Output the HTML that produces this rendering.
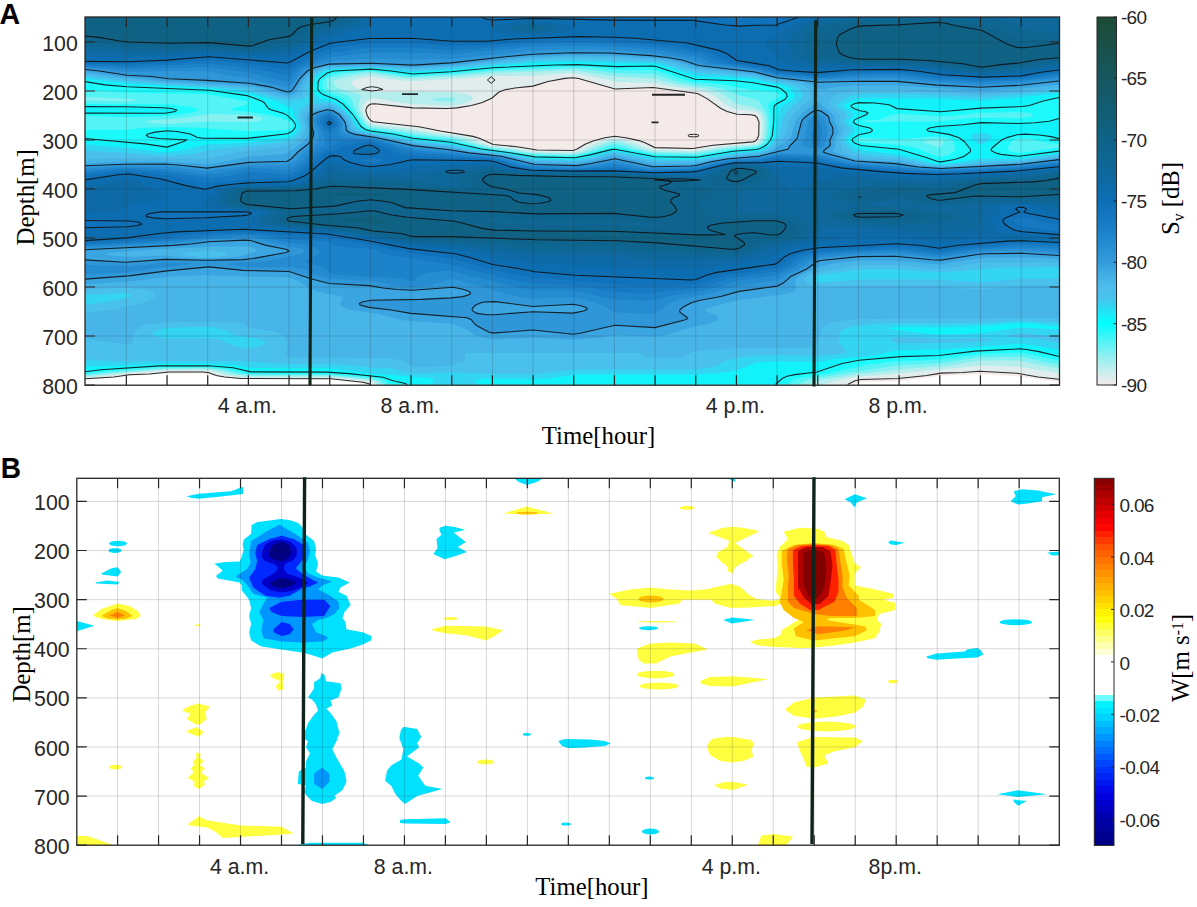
<!DOCTYPE html><html><head><meta charset="utf-8"><style>html,body{margin:0;padding:0;background:#fff;width:1197px;height:907px;overflow:hidden}svg{display:block}</style></head><body>
<svg width="1197" height="907" viewBox="0 0 1197 907" font-family='"Liberation Sans", sans-serif'>
<rect width="1197" height="907" fill="#fff"/>
<defs><clipPath id="cA"><rect x="85.0" y="17.0" width="974.5" height="368.2"/></clipPath></defs>
<g clip-path="url(#cA)">
<rect x="85.0" y="17.0" width="974.5" height="368.2" fill="#ffffff"/>
<path fill="#f5eaea" fill-rule="evenodd" d="M85,17L1059,17L1059,381.9L1019,376.4L979,374.3L941,375.8L899,381.2L863,382L859,382.5L854.7,384.5L366.7,384.5L357,382.7L329,379.5L241,379.1L221,377.3L215,376.2L207,373.7L201,373.3L167,373.4L129,375.9L103,378.6L85,379.3L85,17Z"/>
<path fill="#e1ecec" fill-rule="evenodd" d="M85,17L1059,17L1059,379.2L1049,378.5L1045,377.6L1038,377L1035,376.1L1029,375.5L1025,374.3L1017,373.3L981,371.2L963,372.5L941,373.1L927,375.5L898.1,378.5L863,379.3L855,380.8L847.7,384.5L370.2,384.5L369,383.7L363,382.3L331,378.8L241,378.5L224.6,377L216.4,375.5L209,372.7L201,371.9L169,372L149.3,374L129,374.7L114.1,377L94.3,378.5L85,378.7L85,17ZM565,78.4L548,81.5L533,86.1L515,88L505,89.8L499,92.1L492.1,98L482.4,102.5L471.5,105.5L457,107.9L447,108.5L413,107.9L375,103.7L371,104L369,105L367,107.1L365.9,110L366,111.5L367,115.1L369,118.6L371,120.6L373,121.7L419,126.7L440.3,131L473,136.4L479.9,138.5L493.2,144.5L517,146.7L537,150L573,150.5L577.2,149L585,144.3L593,140.9L605,137.7L615,136.3L627,138L639,140.6L645,142.7L655,147.6L693,148.5L713,145.3L753,141.9L755,141.3L757,139.5L758.7,135.5L759,122L757,117.4L755,115.6L751,114.7L737,114.3L727.1,111.5L720.9,108.5L707,98.6L697.5,93.5L653,87.5L615,89L611,88.3L591,81.8L578.6,78.5L573,77.7L565,78.4Z"/>
<path fill="#b6eeee" fill-rule="evenodd" d="M85,17L1059,17L1059,373.2L1019,366.7L981,365.5L959,368.1L921.7,371L891,374.2L857,376.6L839.3,380L823.6,384.5L375.2,384.5L373,382.5L369,381.1L331,377.6L251,377.4L239,376.7L225,374.9L211.2,371L203,370.4L165,370.6L125,373.6L103,376.2L85,377.4L85,17ZM557,73.9L531,76L493,76L469,78.1L415,80.9L407,80.7L391,79.4L371,76.5L367,76.7L359.5,78.5L354.8,80L352.1,81.5L351.3,83L351.8,84.5L355,87L359.2,89L371,92.3L413,91.5L451,91.8L465,93.8L471,96.2L472.9,98L472.6,99.5L470.4,101L466.7,102.5L457,104.9L449,105.7L411,103.9L399.9,102.5L377,98.4L371,98.4L367,100.3L365,102.4L362.7,107L362.4,110L363.8,114.5L367.1,120.5L369,122.6L373,124.6L405,127.9L432.1,132.5L461,136.3L471,138.6L485.7,144.5L490.9,146L513,148.2L531,151.3L539,152L569,152.6L575,152.3L581.3,150.5L593.3,144.5L599,142.3L609,139.7L615,139.1L621,139.7L631,141.9L637,143.8L645,147.5L655,150L695,150.9L719,147L755,143.9L757.4,143L759.2,141.5L761.4,137L762,132.5L762.2,122L760.6,116L758.4,113L755.6,111.5L753,110.9L739,109.8L733,108.3L727.4,105.5L712.8,95L706.1,92L697,89.9L673,86.8L655,82.9L617,81.9L594.8,77L577,73.8L571,73.3L557,73.9Z"/>
<path fill="#87f0f1" fill-rule="evenodd" d="M85,17L1059,17L1059,367.9L1041,365.3L1019,360.6L981,360.6L947,365.7L903,368.9L881,371.7L857,374L819,380.5L813,382.3L809.6,384.5L379.5,384.5L376.5,381.5L371.8,380L337,376.8L325,376.2L247,376L231,374.1L219.9,371L213,369.8L203,369.1L165,369.3L122.7,372.5L85,376.2L85,17ZM553,71L495,72.8L461,76L413,78.6L395,77.3L373,73.6L369,73.4L354.8,75.5L335,80L333.3,81.5L333.4,83L335,85.6L337.2,87.5L340.2,89L356.8,93.5L360.1,95L360.8,96.5L358.7,104L359,110L365.4,122L368.5,125L371,126.2L401,129.9L426,134L455,137.2L463,138.9L479.5,144.5L489,146.9L511,149.5L531,152.7L539,153.3L569,154L576.5,153.5L587.8,150.5L606.2,143L615,141.4L624,143L641.1,149L653,151.4L661,151.9L695,152.5L725,148L755,145.5L758.3,144.5L760.7,143L762.9,140L764,137L764.9,129.5L764.9,120.5L763.5,114.5L761,111.1L755,107.4L737,104L734.2,102.5L723,94.1L715,90.7L705,88.5L675,83.9L653,78.2L615,76.4L575,70.6L553,71ZM438.3,98L451,97.6L453.3,98L455.4,99.5L453.9,101L451,101.6L438.8,101L431.3,99.5L438.3,98Z"/>
<path fill="#54f4f6" fill-rule="evenodd" d="M85,17L1059,17L1059,364.2L1047,362.3L1021,356.6L979,357.3L941,362.9L901,365L889,366.4L813,378.6L806.9,380L803,381.5L799,384.5L383.8,384.5L381.4,381.5L379,380.3L369,378.4L329,375.1L247,374.8L239,373.8L221.2,369.5L205,368.1L163,368.3L115,371.9L85,375L85,100.5L127,101.2L133.1,101L137.6,99.5L85,96.8L85,17ZM205,114.4L183,118.1L148.3,120.5L145.6,122L156.8,123.5L167,123.9L207,121.6L247,122.1L257,121.4L261,120.4L263.3,119L262.2,117.5L253,115.4L245,114.7L213,114L205,114.4ZM281,124.7L279.1,125L283,125.4L285.8,125L281,124.7ZM533,69.5L493,70.9L457,74.4L413,77L401,76.2L375,71.9L367,71.6L346,74L331,77.2L328.5,78.5L327,80L326.4,81.5L326.8,86L328,89L331,91.1L345,94.5L349.5,96.5L351.8,99.5L355.6,110L362.8,122L367,126.4L371,128.1L397,131.3L417,135L451.5,138.5L478.8,146L491,148.4L533,154.2L567,155.2L575,155L583.1,153.5L594.3,150.5L610.9,144.5L615,144L619,144.6L632.7,149L655,153.2L689,154.1L697,153.9L729.3,149L753,147.3L757,146.6L761,144.8L763.3,143L765.4,140L766.7,137L767.9,123.5L767.2,116L765.6,111.5L762.2,107L759,101L755,99.1L739,95.6L729,90.9L723.6,89L713,86.7L693,84.4L681,82.2L672.5,80L657,74.7L653,74L615,73L591,69.8L575,68.5L533,69.5ZM933,139.9L923.7,141.5L924.1,143L931,144.7L937,146.9L939,147.2L941,146.4L943.2,143L943.1,141.5L940.8,140L933,139.9Z"/>
<path fill="#1dfafc" fill-rule="evenodd" d="M85,17L1059,17L1059,144.1L1047,142.8L1029,138.8L1021,138.2L1015,139.6L1011.7,141.5L1007.4,147.5L1007.2,149L1008.8,150.5L1013,151.9L1021,153L1045,149.6L1059,148.2L1059,360.8L1029,354.1L1019,352.8L979,354.2L939,359.5L893,361.5L867,364.7L826.4,374L801,377.8L793.6,380L791,381.5L788.4,384.5L388.4,384.5L386.3,381.5L384,380L381,379L375,377.9L357,376.1L327,373.9L249,373.7L241.5,372.5L233,369.9L227,368.8L205,366.9L159,367.3L107,371.2L85,373.8L85,129.8L123,130.1L143,127.9L171,127.1L199,127.8L235,130.6L251,131.2L285,130.3L289,129.3L290.9,128L292,126.5L292.3,125L291,122.6L287,120L273,115.9L261,113.6L232.1,110L231.8,108.5L245,105L247.3,104L247.7,102.5L245.2,101L243,100.5L212,95L203,94.1L127,92.8L85,89.7L85,17ZM527,67.9L491,69.5L453,73.1L413,75.5L405,75L373,70.4L353,71.1L337,72.8L329,74.9L325,77.6L322.8,80L322.2,81.5L322.2,86L322.7,89L325.4,92L329,93.8L339,96.8L345,100.4L349,105.1L362.5,125L365,127.2L369,129.2L397,133.1L413,136.5L449,140.2L483,148.2L533,155.4L569,156.6L575,156.4L589.4,153.5L611,147.5L615,146.9L655,154.8L691,155.9L697,155.6L733,149.9L757,148L761,146.5L764.2,144.5L767.1,141.5L768.7,138.5L770,132.5L770.7,120.5L770.3,114.5L768,105.5L769.9,102.5L777,98.5L779,96.5L779.1,95L777.8,93.5L773.5,92L755,90.3L739,87.8L723,84.4L691,81.4L679.7,78.5L659,71.2L653,69.8L615,69.8L595,67.8L575,66.6L527,67.9ZM977,112.9L957,115.5L943,116.2L903,113.9L897,113.9L887.4,116L883,118.6L879,119.7L865,120.6L860.6,122L865,122.4L897,121.6L937,121.8L973,117.8L1023,118.1L1032.8,116L1033.7,114.5L1029.4,113L1025,112.4L1017,112.1L977,112.9ZM929,136.8L899,139.5L863,137.9L859,138.4L857.1,140L859,141.7L863,142.5L897,144.7L909,146.2L917,148.2L935,155.7L941,156.9L948,155L951,153.5L954.6,150.5L955.2,147.5L953.8,141.5L952.2,140L949.1,138.5L943,136.9L937,136.4L929,136.8ZM85,104L169,104.2L191.8,107L197.3,108.5L198.7,110L195.9,111.5L189.8,113L167,116.1L127,117.3L85,115.8L85,104Z"/>
<path fill="#12f2fa" fill-rule="evenodd" d="M85,17L1059,17L1059,97.5L1043.3,101L1029.4,105.5L1023,106.5L981,108.1L941,111.7L897,108.6L895,108L891.3,105.5L889,104.8L875,103L859,102.6L853.7,104L851.2,105.5L851.4,107L855,109L861,111L865.2,111.5L868,113L866.6,114.5L855,119.6L853.9,120.5L853.3,122L855,123.7L859,125.6L869.9,128L872.1,129.5L872.2,131L870,132.5L859,134.8L853,138.3L852,140L852.7,141.5L855,143.2L861,145.5L899,149.2L927,157.7L937,161.3L941,161.9L954.5,159.5L963.9,156.5L967,154.7L970,152L970.6,150.5L970.2,149L964.2,141.5L959,137.7L949,134.4L933,132.2L927.9,131L927,129.5L929.4,128L937.7,126.5L963,124.8L981,122.6L1019,123.5L1035,122.8L1049,121.2L1059,118.5L1059,138.6L1051,136.6L1039,135L1025,134.1L1017,134.7L1007,137.6L1001.6,140L992.6,147.5L991.3,149L991.2,150.5L995,152.8L1001,154.4L1019,156.3L1059,151.1L1059,356.5L1039,351.6L1025,349.3L1019,348.9L975,351.1L959,352.7L939,355.5L901,356.6L859,360.2L842.2,363.5L817,372L795,374.6L787,376.3L782.1,378.5L775.6,384.5L407.2,384.5L403.4,383L393,380.8L387.6,378.5L383,377.3L347,373.4L327,372.1L251,371.9L247,371.4L239,368.9L233,367.7L207,365.6L157,366L101,369.7L85,371.7L85,138.5L145,143.9L167,147.1L183.8,141.5L186.4,140L181,139.3L159,138.5L148.4,137L146.3,135.5L147.9,134L155,132.1L167,130.7L177,131.5L190.4,134L197,137.2L203,138.2L247,138.4L287,133.8L291,132.1L293,130.4L295,127.8L295.7,125L293,120.5L287,115.1L283,113.3L271,109.8L268.5,108.5L264,102.5L261.5,101L247,95.6L209,90.3L127,86.8L105,84.9L85,81.6L85,17ZM555,65L493,67.7L451,71.7L413,74L407,73.6L389,70.8L371,69.1L333.8,71L327,73L319.9,78.5L318.2,81.5L317.8,89L319.6,92L323,94.6L336,99.5L343,104L352.9,114.5L361,126.5L365.4,129.5L370.5,131L393,134L413,138.3L451,142.3L481.3,149L513,153.2L535,156.9L575,157.8L591,154.6L611,149.6L615,149.2L655,156.7L689,157.6L697,157.3L733,151.3L757,149.5L762.4,147.5L766.9,144.5L770.5,140L772.3,135.5L773.7,122L773.9,107L774.6,105.5L776.4,104L784.8,99.5L787.1,96.5L787.2,95L786.5,93.5L781.3,89L777,87.1L753,82.7L735,80.8L695,79.2L687,77L657,66.7L653,66L617,66.6L577,64.6L555,65ZM85,107L85,106.6L125,106.7L161,107.6L171,108.4L176.7,110L175.3,111.5L165,113.2L85,113.1L85,107Z"/>
<path fill="#34d5f2" fill-rule="evenodd" d="M85,17L1059,17L1059,93.2L1003,99.1L981,100.7L937,98.7L861,98.3L857,98.9L853,100.3L845.5,104L844,105.5L844.4,107L851.7,111.5L853.8,114.5L853.4,116L848.9,120.5L848.5,122L853.5,126.5L854.6,128L855,131L853.4,134L848.3,138.5L847.6,140L848.1,141.5L855,147.3L857,148.6L861,149.9L899,154.4L917,158.4L935,163.7L941,164.3L956.6,162.5L981,158.5L1021,158.6L1041,155.4L1059,153.3L1059,326L1049,325.4L1028.6,323L1021,322.7L1014.1,323L991,325.6L945,327.2L899,326.5L890.8,327.5L888.9,329L925.7,333.5L941,334.4L981,333.2L1019,327.9L1037,328.2L1059,329.7L1059,350L1033,345.2L1021,343.7L939,349.5L899,350.3L891,351.4L879.4,354.5L870,356L835,359L817,362.2L777,361.5L759,362.3L753.8,363.5L745,367.4L735,370.6L727,372.2L717,373.3L693,374.5L577,374.6L551,378L533,379.4L487,378.4L476.2,380L475.6,381.5L477.7,384.5L431.8,384.5L433.4,380L433,378.8L429,377.7L403,376.1L387,374.4L371,373.4L329,368.3L253,367.9L233,365.1L205,363.7L165,363.8L125,365.6L85,366.2L85,144.4L127,147.8L161,151.9L169,152.2L181.1,150.5L207,144.6L249,142.5L287,137.7L291,136.1L295,133L297.7,129.5L298.9,126.5L298.3,123.5L293.7,116L292.5,110L291,108.1L275.5,101L249,92.9L211,88.3L131,84L85,78.8L85,17ZM571,62L533,63.1L491,66.2L451,70L415,72.1L409,72L389.8,69.5L371,68.1L332.5,69.5L325,71.5L321,74L317,77.4L314.2,81.5L312.9,89L313.8,92L317,96.5L321,98.7L333,101.6L339,104.8L350.1,114.5L359.3,128L363,130.2L369,131.9L389,134.7L411,139.5L451,143.8L477,149.4L511,153.9L535,158.3L575,159.3L587,157.1L611,151.3L615,150.9L623.2,152L655,158.4L689,159.2L697,158.9L733,152.8L757,151L763,149.1L767,146.7L771,143L774.7,137L776,131L777.9,116L780.4,108.5L782.9,105.5L792.9,99.5L794.7,96.5L794.3,93.5L790.2,89L787.9,87.5L783,85.6L767,82.5L755,79.6L737,77.7L697,75.9L675,69.6L661.4,65L655,63.5L615,63.3L571,62ZM973.8,134L979,133L985,133.3L991,135.1L991.7,135.5L992.1,137L991.1,138.5L985,143L981,144.4L979,144.2L975,141.8L971.7,138.5L970.9,137L971.3,135.5L973.8,134Z"/>
<path fill="#4ac1ed" fill-rule="evenodd" d="M85,17L1059,17L1059,90.6L981,97.6L939,95.2L901,94.1L859,94.2L853,95.3L845.2,98L839,102.5L836.7,105.5L837.3,107L844.2,111.5L846.9,114.5L847,116L844,120.5L843.8,122L848.1,126.5L849,128L849.4,131L848.2,134L843.8,138.5L843.1,140L843.6,141.5L850.8,150.5L853.6,152L859,153.8L868.2,155L901,157.6L926.9,164L941,165.6L960.9,164L981,161.6L1021,160.3L1059,155.1L1059,267L1008.2,267.5L983,268.9L963,271.1L941,272.1L921,271.3L897,269.6L861,269.6L819,275L814.6,276.5L812.7,278L812.8,279.5L815,281.2L821,282.4L857,279.7L867,279.5L939,279.6L981,282.4L1021,278.6L1059,278.5L1059,322.5L1019,320.8L975,323.1L939,323.6L897,322.9L875,324L859,325.5L847,328.1L841.6,330.5L840.2,332L839.3,335L839.2,342.5L840.9,345.5L846.5,351.5L845.3,353L835.6,354.5L817,355.9L777,355.1L759,355.5L749,356.2L737,357.9L729,359.8L723.6,362L718.3,365L713,366.7L705,368.3L695,369.4L575,369.6L531,374.5L493,374L453,372.6L413,373.1L403,371.8L389,367.7L371,367.8L353,365.6L333,364.2L287,363.9L247,361.5L225,361.1L167,360.9L125,361.6L100.4,360.5L85,359.1L85,304.9L106.1,302L127,297.9L131.7,296L131.5,294.5L125,292.9L85,295L85,150.5L125,152.7L153,155.1L171,155.6L193,153.7L217.1,149L253,145.8L287,141.4L291,140.1L295,137.6L298.9,134L301,130.9L302,128L302,125L298.6,117.5L298.2,114.5L299.6,111.5L303,107.3L305.6,105.5L309,104.3L315,103.4L325,102.9L329,103.2L333,104.4L337,106.5L345,112.3L349.7,117.5L356,128L360.6,131L367,132.7L385.6,135.5L411,140.8L451,145.2L473,149.9L509,154.6L531,159.1L537,159.8L575,160.7L589,158.4L609,153.3L615,152.4L622.7,153.5L643,158.2L655,160.2L695,160.6L735,153.9L757,152.4L763,150.8L767,149L772.3,144.5L778.2,137L780.2,131L782.9,119L785,114.5L790.9,107L801,99.5L802,98L802.5,95L801.4,92L798.9,89L794.2,86L789,84.3L769,80.8L753,77L737,75.4L705,73.3L695,72.1L681,68.5L665.2,63.5L657,61.7L573,59.4L533,60.6L453,68.1L415,70.3L371,67.2L337,67.9L329,68.6L325,69.5L319,72.3L311.9,78.5L309.6,83L308,89L307.9,95L306.8,96.5L303,98.6L299,99.7L293,100.6L289,100.5L273,97L253,91.2L243,89.6L213,86.9L147,83.3L85,76.7L85,17ZM177,327.5L165,328.3L159,329.7L153.8,332L152.9,333.5L154.1,335L159,337.1L165,338.5L171,338.9L207,338.1L217,338.7L221,339.6L229,344L235,346.3L241,347.8L247,348.6L253,348.1L259,346.7L264.5,344L264.9,342.5L263.4,341L261,339.9L255,337.9L234.1,335L226.1,330.5L215,327.6L205,326.7L177,327.5ZM1016.8,333.5L1025,333.2L1047,336.1L1059,336.7L1059,342.8L1037,338.4L1009,337.1L1006.8,336.5L1010,335L1016.8,333.5ZM893.7,338L901,337.1L939,338.6L983,338.2L991,338.5L994.2,339.5L987.4,341L977,341.9L939,343L903,343.3L895,342.5L890.9,341L890.4,339.5L893.7,338Z"/>
<path fill="#48b5e9" fill-rule="evenodd" d="M85,17L1059,17L1059,88L1021,91.7L981,94.5L899,90L857,90.2L844.9,92L835.8,95L833,96.8L831,98.8L829.4,104L829.5,105.5L830.3,107L838.7,113L840.6,116L839.1,122L842.8,126.5L844,129.5L843,134L839.3,138.5L838.7,140L839,141.5L841.5,146L841.8,150.5L843.5,152L847,153.5L857,156.8L865,157.9L899,159.7L923,164.9L941,166.6L960.7,165.5L985,163.2L1021,161.7L1059,156.7L1059,262.4L983,262.4L977.8,263L955.1,267.5L941,269.1L933,268.7L899,265.1L859,265.1L819,271.5L813,273.5L806.5,276.5L804.6,278L804.2,279.5L806.1,282.5L810.8,285.5L815,286.9L821,287.6L861,285.9L935,285.9L963,288.4L981,289.3L1001,288.1L1023,285.8L1059,285.8L1059,318.6L1021,317.9L979,318.7L895,318.7L855,319.3L835,321.7L829,323.2L825,325.2L822.6,327.5L820.8,330.5L817,345.3L815.7,347L813,347.7L749,348.1L707,349.6L694.7,351.5L687.2,354.5L687,355.1L684.5,356L683,357.5L645,357.5L643,356L643,353L465,353L465,362L461,362.2L458.9,363.5L457,363.7L454.2,365L444.5,366.5L419,367.3L413,366.8L407,362.4L403,360.8L389,358.3L295,357.4L289,356.8L286.1,356L284.2,354.5L286.5,350L287.3,344L286,339.5L282.2,335L279,333.3L273,331.5L251,328L244.6,324.5L237,323L211,322.1L171,322.5L157,323.2L147.4,324.5L141,326.6L135.9,330.5L133.7,333.5L133.3,335L132.9,342.5L131.3,344L129,344.5L123,344.3L90.6,339.5L86,338L85,337.1L85,314L89.3,312.5L119,308.7L126.3,306.5L143,302.8L151,299.9L154.3,297.5L155.3,296L155.2,294.5L154,293L151,291.4L143,289.2L133,288L123,287.7L85,289.9L85,159L125,157.8L207,159.1L237.6,152L271,148.3L285,146.3L289,145.1L295.9,141.5L301,137.5L303.8,134L305.1,131L305.5,126.5L303,119L302.6,116L304.3,113L307,111L313,108.2L319,106.5L327,105.5L333,106.8L342.9,113L346,116L348.1,119L350.8,123.5L352.6,128L353.8,129.5L356.1,131L360.5,132.5L383,136.4L411,142.1L449,146.3L471,150.8L505.2,155L533,161L575,162.2L592.1,159.5L611,154.6L615,154.2L655,162.2L695,162.2L735,155.4L757,153.8L764.6,152L769,150.2L771,149L777,142.8L783.9,137L786.3,131L788.9,120.5L790.5,117.5L795,112.2L802.2,105.5L808,101L809.8,98L810.1,95L809.5,92L807.7,89L803.8,86L800.4,84.5L793,82.7L773,80L755,75.4L697,69.9L688.5,68L668.9,62L657,59.9L613,57.9L575,57.2L533,58.5L455,66.4L415,68.8L371,66.2L329,67.2L323,68.5L317,70.8L310.8,75.5L306.9,80L301.7,93.5L300,95L293,97.4L287,97.5L277,95.4L259,90.1L247,87.9L219,85.7L159,82.5L121,78.8L85,74.6L85,17ZM201,251L182.6,252.5L181.8,254L191,255.9L201.6,257L211,257.1L224.6,255.5L227.6,254L225.2,252.5L219,251.5L209,250.8L201,251Z"/>
<path fill="#3ba5e1" fill-rule="evenodd" d="M85,17L1059,17L1059,84.5L1021,88.4L981,90.8L895,85.5L855,85.7L835,87.3L821,89.6L817,88.4L811,84.5L803,82.2L775,78.8L753,73.3L697,67.5L677,61.5L663,58.9L653,57.8L615,55.7L573,55.2L529,56.9L453,64.9L415,67.2L371,65L329,65.8L319,68.1L314.9,69.5L311,71.6L303.9,78.5L297,91.4L295.1,93.5L291,95.1L287,95.2L266.1,89L249,86L221,84L165,81.2L121.7,77L85,72L85,17ZM816.8,102.5L819,102.5L821,104.1L823.2,107L831.5,113L834.3,116L834.7,117.5L834.4,122L837.5,126.5L838.6,131L837.9,134L834.3,140L835.7,146L832.9,150.5L833.5,152L837,153.5L855,158.9L861,159.9L897,161.7L916.9,165.5L941,167.5L1021,163L1059,158.2L1059,258.8L1021,257.5L983,257.8L939,264.6L895,260.4L859,260.5L831,264.1L819,266.8L798.6,276.5L796.7,278L795.3,281L795,285.5L796.2,290L793,292.1L781,294.8L757,297.4L736.8,300.5L718.1,305L708.3,308L705.1,309.5L706,311L716.2,315.5L718,317L718.5,318.5L717.5,320L715,321.5L709,323.7L690.4,327.5L669,334.2L657,336.4L615,335.3L595,338.2L575,339.8L533,337.7L497,339.3L489,339L481,337.3L475,335.3L465.5,329L453,323.9L405,320.5L395,318.5L378.5,314L353,310.3L345,308L340.4,305L339.9,303.5L342.6,299L342.4,297.5L340.5,296L325,293.5L315,290.7L309,287.9L298.4,281L291.1,278L287,277.2L247,276.6L205,275.2L167,276.8L133,281.3L85,284.5L85,162.9L127,161.5L165,161.4L209,164L228.1,161L249,156.6L285,153.8L289,152.3L301.3,143L305,139.8L308.2,135.5L309.1,132.5L309.3,129.5L307.2,122L306.7,117.5L308,114.5L311,112.4L315,110.6L321,108.8L327,107.8L333,109L341.9,114.5L347.5,122L350,129.5L351.6,131L357,133.1L379,136.9L413,143.9L449,147.9L469,151.7L505,156L515.2,158L533,162.6L575,164L595,160.7L611,156.8L615,156.3L655,164.6L693,164.2L711,160.4L731,157.3L758.1,155L767,152.8L773.2,150.5L779,145.4L787,140.8L789.8,138.5L791.4,135.5L794.9,122L797,118L802.3,113L813,104.7L816.8,102.5ZM233,246.5L209,246.8L151.6,249.5L113.9,252.5L105.2,254L111.1,255.5L125,256.7L165,255.8L181,257.5L199,258.5L209,258.7L223,258.1L239,256.4L256.9,251L257.2,249.5L249,246.8L245,246.3L233,246.5Z"/>
<path fill="#2f96d8" fill-rule="evenodd" d="M85,17L1059,17L1059,81L1021,85.2L981,87.2L937,85.1L897,81.4L859,81.3L819,82.2L801.7,80L777,77.7L755,72L701,65.8L697,65L681,59.8L661,56.6L615,53.2L573,52.8L525,54.9L451,62.9L415,65L371,63.2L329,64.1L315,67.5L307.2,71L303.8,74L299.9,78.5L293,89.3L291,91.2L289,92L287,92L271,87.1L249,83.3L207,80.4L169,78.7L151,76.5L127,75.2L99.2,71L85,69.5L85,17ZM325.4,110L331,110.1L335,111.8L339.2,114.5L341.9,117.5L344.9,122L345.8,125L346.2,129.5L347.1,131L351,133.2L359,135.2L379,138.2L411,145.2L449,149.7L469,152.9L497,155.7L509.7,158L529,163.4L535,164.5L569,165.8L577,165.6L591,163.5L615,158.8L645.9,165.5L657,166.9L695,165.7L711,161.7L725,159.3L737,157.7L759,156.2L779,151L787,149.5L788.3,149L789.6,146L797.1,138.5L801.4,122L803,119L807,115.3L813,111.5L817,110.2L819,110.4L823,112.2L827.9,116L829,117.8L829.7,122L832.2,126.5L833.1,129.5L832.8,134L829.9,140L830.3,144.5L829.8,146L823.9,150.5L823.5,152L826.8,153.5L855,161L895,163.6L918.5,167L941,168.5L1021,164.2L1059,159.6L1059,255.5L1021,253.3L987,253.8L979,254.3L959,257.8L941,260.1L931,259.7L895,256.2L859,256.6L821,260.5L817,261.6L806.8,269L790.8,276.5L783,283.3L777,286.1L739,291.4L721,296.5L699,300.5L691,302.9L684,306.5L680.1,309.5L679.6,311L680.2,312.5L683,314.9L686.6,317L687.7,318.5L684.4,320L655,327.6L615,325.2L579.1,333.5L573,334.2L533,330L499,333L493,333.1L488.7,332L477.4,326L475.4,324.5L471,319.4L467,317.8L459,316.7L411,313.4L391,310L369,307.4L360,305L359.3,303.5L362.1,302L371,300.2L421,299.4L451,297.9L463,296.6L469.6,294.5L470.6,293L469.3,291.5L463,289.3L453,287.2L413,290.3L397,289.5L383,288L369,285.6L329,283.5L311,278.8L293,272.5L289,271.5L243,270.4L229,269.3L209,266.9L167,270.9L129,275.9L85,279.1L85,259.9L125,262.3L165,259.4L207,260.2L243,259.6L253,258.5L267.4,255.5L286.1,252.5L289,251L286.8,249.5L265,245.1L250.5,240.5L245,240.1L209,241.7L191,244L173,245.4L127,247.3L85,249.8L85,165.8L125,164.3L165,164L181,165.2L207,168.1L249,162.4L287,161.2L291,159L299,151L307.5,144.5L310.4,141.5L312.3,138.5L313.5,135.5L313.7,132.5L313.2,129.5L310.5,122L310.5,119L311.4,116L315.5,113L325.4,110ZM485,302L481,302.8L475.7,305L472.5,308L472.1,309.5L473,311.2L477,313.4L487,314.8L495,314.7L533,311.7L573,313.1L583.6,311L586.8,309.5L587.1,308L581,305.7L573,304.2L533,306.5L495,301.6L491,301.4L485,302Z"/>
<path fill="#258cd2" fill-rule="evenodd" d="M85,17L1059,17L1059,78.3L1023,82.4L981,84.5L937,82.3L897,78.1L861,78.1L817,79.8L777,76.3L757,70.8L737.4,68L710.2,65L703,63.5L693,59.7L687,58L655,52.9L615,49.9L573,49.2L533,50.6L451,58.9L411,59.3L371,58.5L331,61L311,66.9L304.8,69.5L299.5,74L291,85.2L289,86.6L287,87L249,78.3L229,75.5L207,71.2L169,71.1L129,72L107.7,69.5L85,67.8L85,17ZM327,111.5L329,111.4L333,112.5L338.1,116L341.4,120.5L342.9,123.5L342.3,129.5L342.6,131L345,133.4L350.7,135.5L375,138.7L415,147.9L451,151.7L469,154.2L496.2,156.5L510.4,159.5L527,164.5L535,165.8L577,167L591.8,165.5L615,161.4L641.9,167L653,168.2L693,167.2L697,166.7L711,163L723,160.6L737,158.8L757,157.7L775,153.9L781,153.2L817,153.9L846.2,161L857,162.9L891,165.2L915,167.9L939,169.5L975,168.1L1019,165.6L1059,161.1L1059,252.2L1019,250.1L981,251.5L941,257.3L929,256.6L897,253.1L857,254.2L819,257.6L811.4,260L801,267.8L785.7,275L777,280L771,281.3L739,285.4L711,293.2L681.6,299L676.4,300.5L669.9,303.5L657,312.8L655,313.6L651,314L615,312.2L611,310.8L607.2,308L600.9,305L587,300.6L575,297.7L569,297.4L535,298.6L525,297.4L497,291.8L471,283.6L453,279.2L447,279.8L434.6,284L428.2,285.5L416.2,287L409,287.2L395.7,285.5L373,281.3L329,278.7L315.9,275L303,269.3L291,266.9L249,267.2L237.4,266L229.3,264.5L229.7,263L251,262.5L267,260.9L295,255.3L300.1,254L303.5,252.5L304.4,251L303.2,249.5L299.7,248L277,243.7L259.2,239L251,237.6L243.2,237.5L209,239.2L169,243.4L85,247.7L85,168.2L125,166.2L163,166.6L175,167.5L207,171.5L247,165.5L285,166.1L289,165.6L294.5,162.5L303.5,153.5L314,146L316.9,143L318.5,138.5L318.8,135.5L317.7,131L313.9,123.5L314.2,119L315.8,116L317.8,114.5L323,112.4L327,111.5ZM813.8,116L817,114.9L819,115.1L823,117.5L824.1,119L826.9,126.5L827.8,131L827.7,134L825.5,140L825,144.5L823.8,146L821.4,147.5L817,148.7L813,148.6L807.1,147.5L803.4,146L802.2,144.5L804.4,138.5L807.8,122L809.7,119L813.8,116ZM160.2,263L169,262.5L191,263L187.1,264.5L178.3,266L151,268.4L127,272.2L85,274.5L85,265L129,265.9L143,265.2L160.2,263Z"/>
<path fill="#1c82ca" fill-rule="evenodd" d="M85,17L1059,17L1059,76L1041,78.7L1023,80.5L981,82.3L939,80.2L897,75.4L859,75.5L833,77.6L815,78.1L777,75L757,69.3L714.3,63.5L709,62L699,57.5L694.1,56L657,49.7L615,46.4L573,45.4L533,46.6L453,54L409,52.5L373,52.4L333,56.7L327,58.1L302.3,68L297.8,71L291,79.2L289,80.9L287,81.6L285,81.6L249.2,72.5L209,66.9L129,69L85,66.4L85,17ZM322.7,114.5L329,113.1L333,114.3L335.3,116L338.9,120.5L340.3,123.5L340.3,125L338.1,131L338.2,132.5L338.9,134L340.5,135.5L344.3,137L351,138L369,139.1L375,139.9L388,143L405,148.2L413,149.9L467,155.3L495,157.3L505,159.5L523,165.1L535,167.1L577,168.2L594.5,167L615,164.2L633,167.6L651,169.4L691,168.4L699,167.5L715,163.3L729,160.7L737,159.8L759,158.7L775,155.4L781,154.9L817,156.1L843,162.2L857,164.4L937,170.6L979,169.1L1019,166.9L1059,162.4L1059,249.2L1019,247.4L979.6,249.5L941,255L931,254.5L897,250.6L853.4,252.5L819,255.1L813,256.4L806.7,258.5L803,260.6L794,267.5L783,272.6L775,275.5L737,280.6L719,286.4L703,290.6L673,295.5L655,300L647,300.5L615,300.1L583,292.2L573,290.5L537,290.3L529,289.6L511,286L493.7,281L471,276.1L451,270.7L439,271.2L427,273.1L421,275.2L413,280.5L411,281.1L403,278.9L395,277.8L363.7,276.5L342.2,275L333,273.9L329,272.2L325,268.9L321,266.6L308.2,263L304.7,261.5L306.8,260L315,256.3L318.1,254L319,252.5L319.1,251L318.2,249.5L315,247.3L307,244.9L287,242.4L267,237.8L253.9,236L245,235.7L209,237.4L162.1,242L85,246.2L85,170.5L123,167.9L143,168.2L167,169.4L203,174.3L209,174.6L219,173.4L247,168.1L261,168.3L285,170.2L289,169.9L293,168.2L299.3,164L310.8,153.5L324.1,144.5L324.9,141.5L324.2,135.5L321.9,131L317.7,125L316.9,122L318.8,117.5L322.7,114.5ZM815,122L817,120.7L819,121.7L821.2,126.5L822.4,132.5L822.1,135.5L819.7,143L819,143.9L817,144.8L814.3,144.5L812.4,143L812.1,141.5L811.7,134L815,122Z"/>
<path fill="#1679c2" fill-rule="evenodd" d="M85,17L1059,17L1059,73.9L1039,77.1L1023,79L981,80.5L939,78.3L897,73.3L859,73.4L825,76.4L815,76.6L777,73.6L759,68.1L725.6,63.5L719.2,62L706.7,56L697,53.1L663,47.5L615,43.6L575,42.6L533,43.6L495,47.3L453,49.9L409,47.8L373,47.8L363,48.6L335,52L327,53.9L299,66.6L294.6,69.5L289,74.7L287,75.4L283,75L266.8,71L253,68.5L231,65.7L209,63.5L129,66.8L85,65.1L85,17ZM324.8,116L329,115L331,115.4L333.9,117.5L337.2,122L337.7,123.5L336.7,126.5L333,131.3L331,132.7L329,132.6L327,131.4L322,126.5L320.2,123.5L320.2,122L321,120.1L322.9,117.5L324.8,116ZM340.7,141.5L353,140.5L371,140.6L381.3,143L401,149.9L411,152.2L467,156.7L493,158.1L499.5,159.5L512.7,164L521,166.1L531,167.9L541,168.5L577,169.2L595.4,168.5L615,167L631,169.1L653,170.6L691,169.5L699,168.6L719,163.7L733,161.1L759,160L777,156.7L781,156.5L817,158.2L839,163.3L857,165.9L909,170.2L937,171.7L977,170.3L1019,168.1L1059,163.8L1059,246.7L1019,245.1L977,247.9L941,253.1L933,252.7L899,248.5L819,252.9L809,254.8L801,257.4L796.2,260L789,266L783.3,269L777,271.4L733,277.4L709,285L697,287.9L651,292.9L617,292.3L595,288.2L577,285.7L533,283.8L483,273L453,264.8L437,262.5L415.8,258.5L391,255.5L385.7,254L374.8,249.5L371,248.7L343,246.8L337,245.7L329.2,242L327,241.5L315,240.5L291,239.6L275,236.4L261,234.8L247,233.9L211,235.5L189,237L151,240.9L85,244.7L85,172.8L119,169.8L133,169.6L163,171.8L209,178.2L231,175.7L249,171.5L273,173.8L287,174.5L291,173.7L295.3,171.5L306.1,164L318,153.5L325,149.4L340.7,141.5Z"/>
<path fill="#0f72ba" fill-rule="evenodd" d="M85,17L720.6,17L729,18.8L737,19.6L746.9,18.5L753.6,17L760,17L767.5,18.5L775,19.2L779,18.7L783,17L1059,17L1059,72.1L1023,77.5L983,78.8L941,76.6L909,72.3L897,71.3L857,71.6L821,74.8L815,74.9L777,72L767,68.1L763,67.1L729.4,62L725.5,60.5L717,55.3L707,51.9L675,46L661,44.4L619,41.1L575,40L533,40.9L493,44.7L453,46.1L409,43.6L373,43.6L363,44.3L335,47.4L327,49.2L309,57.1L291,67.5L287,69.1L255,64.4L209,60.2L171,62.7L129,64.5L85,63.6L85,17ZM325.8,119L329,117.6L331,118.2L333,119.9L335,123.5L334.6,125L333,126.9L331,128.1L329,128.3L327,127.5L325,126L323.4,123.5L323.5,122L325.8,119ZM357.4,143L367,142.1L374.5,143L395,152.4L403,154.7L431,156.7L491,159.2L497,160.4L507,164.1L515,166.4L527,168.5L537,169.4L575,170.2L613,169.3L655,171.7L691,170.6L701,169.3L721,164.4L733,162.1L761,161.2L779,158.5L817,160.5L837,164.9L857,167.5L901,171.2L937,173L967,172L1019,169.3L1059,165.3L1059,224L1047,223.1L1035.7,219.5L1023,217.1L1017,218L1014.3,219.5L1013.6,221L1014.7,222.5L1017,224L1023,226.2L1046,230L1059,231.3L1059,244.6L1025,242.9L1017,243L967,247L941,251.1L936.3,251L913,247.6L899,246.4L819,250.7L807,252.5L796.4,255.5L790.5,258.5L781.7,266L775,268.4L727,274.9L717,277.4L703,282.6L695,284.5L653,285.9L617,284.7L589,281.7L533,277.8L489,269.1L451,258.5L409,252.8L373,245L357,242.5L333,237.6L327,236.8L293,235.8L269,233.2L243,232.1L197,234L177,235.6L130.2,240.5L85,243L85,175.6L121,171.6L131,171.5L147.2,173L168.8,176L207,183.3L249,179.2L287,178.4L293,176.9L301,172.9L312.9,164L323,155.1L327,152.6L357.4,143ZM369,157.9L362,159.5L362.5,161L369,162.8L376,162.5L381.8,161L383.2,159.5L376.5,158L369,157.9Z"/>
<path fill="#0c6eb0" fill-rule="evenodd" d="M85,17L480.8,17L487,19.2L493,20L535,18.4L613,20.1L693,20.4L725,25L739,26.1L757,25.3L775,25.2L779,24.3L799.1,17L1059,17L1059,70L1041,72.3L1021,75.9L983,77.1L943,74.7L917,71L899,69.4L853,69.8L817,72.6L792.3,71L779,69.8L769,65.7L736.7,60.5L733.8,59L727,53.8L719,50.4L711,48.1L687,43L675,41.5L635,38.3L613,37.2L579,36.6L513,39L487,41.3L453,41.3L411,38.3L369,38.5L337,42.2L329,43.8L309.7,51.5L301,55.9L291,61.8L287,63L263,60.7L209,56.8L167,60.1L129,61.8L85,61.4L85,17ZM328.1,122L329,121.5L330.4,122L331.3,123.5L329,124.8L327.4,123.5L328.1,122ZM363.9,146L369,145L373,145.9L377.8,149L379.1,150.5L378.9,152L376,153.5L371,154.3L361,154.2L354.1,153.5L353.2,152L354.4,150.5L363.9,146ZM329.3,156.5L333,155.6L339,156L341,156.6L343.6,159.5L346.1,161L350.2,162.5L363,165.7L371,166.8L391,164.5L409,160.2L413,159.8L487,160.7L493,161.3L504.8,165.5L511,167.1L531,170.2L573,171.1L613,170.9L655,172.8L693,171.9L699,171L723,165L735,162.9L763,162.6L779,161.3L817,163L841,167.9L875,171.1L905,173.4L935,174.5L961,173.8L1015,171.1L1059,166.8L1059,219.3L1028.5,213.5L1023.8,212L1024.7,210.5L1026.4,209L1023.9,207.5L1021,207.3L1017.9,207.5L1015.7,209L1019.6,212L1005.5,218L1003.3,219.5L1002.7,221L1004.7,224L1008.7,227L1013,229.4L1017,230.7L1023,231.7L1059,234.6L1059,242.5L1023,240.7L1007,241.1L959,245.3L939,248.3L921,245.5L897,243.7L879,244.4L853,246.4L819,247.8L803,250.3L791,253.4L785,256.4L777.5,263L775,264.1L717,272.4L707,275L696.2,279.5L691,280L575,275.3L535,271.8L515,268L492.5,264.5L469,257.2L455,253.8L409,248.6L367.1,240.5L327,234L243,229.2L201,230.6L177,231.9L157,233.8L127,237.9L85,240.6L85,227.7L127,226.8L137.7,225.5L141.6,224L139,222.2L129,221L85,220.5L85,179.9L119.6,174.5L129,174L161.1,179L187,185.9L205,189.2L219,185.9L235,184L249,182.9L287,181.7L291,181L297.4,179L306.8,174.5L325,159.3L329.3,156.5ZM161,211.9L150,213.5L146,215L146.4,216.5L153,217.9L165,218.7L205,217.7L243,215.6L247.8,215L251.3,213.5L249.1,212L245,211.7L207,212.1L169,211.5L161,211.9Z"/>
<path fill="#0d6aa6" fill-rule="evenodd" d="M85,17L373.9,17L371,19.7L365.9,26L361,28.9L349,32.9L331,36.9L317,43.8L301.4,50L291,55.3L287,56.5L249,56.3L207,53.5L165,56.3L125,57.3L85,56.4L85,17ZM811.2,18.5L815.3,17L1059,17L1059,67.6L1019,73.6L981,75.2L953,73.2L925.2,69.5L901,67.4L817,68.1L803,66.8L791.8,65L781.5,62L776.8,59L771,51.9L769.8,51.5L769,50.3L767.7,50L767,48.7L765.7,48.5L765,47L765,42.5L766.3,41L773,37.5L789.8,26L796.7,23L811.2,18.5ZM523.4,21.5L537,21.1L557,22.7L566.2,24.5L570.1,26L572,27.5L571.7,29L565.3,32L551,34.5L531,35.8L507,34.3L501,33.4L496.4,32L494.2,30.5L494.2,29L495.7,27.5L499,25.7L505,23.8L523.4,21.5ZM330.2,162.5L333,162.5L357,168.8L371,170.8L393,169.5L419,166.4L489,163.3L493,163.8L503,166.9L511,168.7L533,171.3L613,172L655,173.9L689,174L697,173.5L731,164.4L737,163.6L743,163.6L769,164.7L781,167.3L815,166.6L827,169.5L839,171.1L861,172.4L899,176.1L935,176.9L1017,172.8L1059,168.6L1059,214.3L1047.8,212L1044.8,210.5L1043.5,209L1040.9,207.5L1033.4,206L1021,205.1L1006.2,206L999.1,207.5L998.3,209L1001.3,212L1000.9,213.5L994.2,218L992.4,219.5L991.7,221L992.6,224L997,230.5L997.9,231.5L1001,232.8L1007,233.7L1035.7,236L1041,236.9L1059,237.5L1059,239.9L1037,238.2L981,237.5L939,242.2L899,237.4L859,236.6L817,242.3L787,249.8L783,251.2L775,255.3L769,257.1L739,263.5L715,266.5L693,270.3L655,269.4L613,266L575,265.5L533,263.3L495,257.8L477,253L466.6,251L449,248.7L409,245.5L371,238.6L331,232.3L273,228L261,226.6L252.9,224L250.6,222.5L249.5,221L250.1,219.5L252.1,218L260.9,213.5L260,212L249,210.2L214.1,209L206.4,207.5L202.8,206L201.1,204.5L209,198.1L214.7,191L219,188.9L227,187.1L243,185.4L285,184.4L293,183.5L303.2,180.5L313,176.1L317.1,173L325,165.3L327,163.8L330.2,162.5ZM120.6,179L125,178.4L129,178.5L137.5,180.5L140.4,182L143.2,185L147,187.5L163.1,192.5L163.7,194L163,196.2L159.1,200L159,200.8L157,201.5L137,201.8L135.9,203L131,205.1L130.3,206L127.4,207.5L119.6,210.5L105,212.7L85,214.3L85,186L103,183.9L120.6,179Z"/>
<path fill="#0e689b" fill-rule="evenodd" d="M85,17L361.9,17L359.5,21.5L355,24.9L347,27.6L332,30.5L327.1,32L311,41.5L289,50L285,51L275,52.1L249,53.3L207,50.5L167,52.4L133,52.4L85,50.3L85,17ZM837.3,18.5L848.9,17L1059,17L1059,65L1013,71.4L981,73.4L959,71.6L935,68L903,65.5L831,64.6L817,63.8L807,62.1L797.2,59L794.6,57.5L791.9,54.5L790.6,50L790,44L790.4,38L791.5,35L800.9,27.5L807,24.4L819,20.9L837.3,18.5ZM520,24.5L531,23.3L537,23.4L551,25.2L554.4,26L557.4,27.5L556.9,29L549,31.3L537,33L529,33.1L515,31.2L512,30.5L509.1,29L509.5,27.5L512.9,26L520,24.5ZM730.6,165.5L737,164.6L749,164.8L761,165.6L769,167.3L773.4,170L780.4,177.5L783,181.8L786.9,185L787,185.6L788.9,186.5L789,187.5L791,188L791,192.5L805,192.5L805,188L807,186.5L809,186L809.5,185L811,184.8L816.3,182L828,179L841,177.4L857,176.5L873,178.4L887,179.4L937,180.3L968.4,177.5L1019,175.1L1059,170.5L1059,207.8L1053.1,206L1047,204.9L1025,203.4L999,204L985,205.4L982.2,206L979.6,207.5L979.6,209L985,213.1L985.4,215L979.6,221L978.3,227L977.3,228.5L972.1,230L941,234.1L861,226.5L823,226.4L821,228L820,231.5L817.9,234.5L808.9,239L799,241.8L779,245.6L769,249.6L758.2,252.5L747,256.4L739,258.1L733,258.7L695,260.6L659,260.4L643,259.2L613,255.7L533,255.3L455,245.7L409,243.2L395,241L377,237.5L335,231.1L281,226.6L267,224.5L261.2,222.5L259.6,221L259.6,219.5L261,218L263.5,216.5L270.2,213.5L269.9,212L263.3,210.5L255,209.5L225,207.3L219,205.6L217.5,204.5L216.4,201.5L218,197L220.7,192.5L222.5,191L226.1,189.5L235,187.8L247,186.6L287,186.3L297.5,185L309,182L317,179L322.2,176L328.7,170L331,169L333,169L349,172.7L367,174.7L407,174.7L415,174.1L467,167.7L489,166.1L493,166.4L511,170.3L531,172.1L615,173L695,176.6L699,175.9L710.3,171.5L730.6,165.5Z"/>
<path fill="#0e6692" fill-rule="evenodd" d="M85,17L353.6,17L351,20.7L347,23.5L341,25.5L325,28.7L319,30.5L307,38.2L291,45L283.6,47L273,48.9L249,51L207,48L167,49.4L127,48.8L85,45.5L85,17ZM876.2,18.5L890.8,17L986.6,17L1007,21.7L1013,24L1023,29.2L1059,33.6L1059,62.7L1008.7,69.5L981,71.7L967,70.6L941.4,66.5L919,64.7L899,63.4L849,62.9L831,61.6L819,59.6L812.1,57.5L806.7,54.5L804.8,51.5L803.2,47L802.9,42.5L804.1,36.5L806.4,33.5L812.4,29L819,25.5L829.9,23L853,20.1L876.2,18.5ZM527.7,26L535,25.5L538.8,26L543.5,27.5L542.6,29L541,29.4L536.1,30.5L531,30.6L523.4,29L523,27.5L527.7,26ZM738.2,165.5L755,166.4L763,167.8L767.5,170L768.7,171.5L769.4,174.5L768.1,177.5L765.5,180.5L755,187.4L751,189.2L738.9,192.5L738,194L736.7,201.5L737.7,209L739,211.7L741,212.4L749,213L777,213.9L795,216.9L801,218.7L804.8,221L806.8,224L807.1,227L806.2,231.5L804.4,234.5L798.7,237.5L789,240.1L771.3,243.5L745,253.2L735,255.3L695,255.5L661,254.4L613,250.3L535,249.8L459,243L409,241.2L383,236.4L363,233.9L341,230.2L287.5,225.5L276.7,224L271.4,222.5L269,221L268.6,219.5L269.7,218L272.2,216.5L279.6,213.5L279.9,212L274.2,210.5L267,209.5L231.7,206L227.3,204.5L225.4,203L224.7,201.5L225.6,197L228.2,192.5L230.4,191L235,189.5L249,187.7L287,187.8L299,186.8L311,184.5L329,178.3L333,177.6L369,179.1L415,180.1L425,181.4L436.8,185L446.5,186.5L453,186.7L460.3,185L461.1,183.5L455.4,177.5L454.6,176L455.9,174.5L459.7,173L469,171L491,168.7L509,171.5L525,172.8L617,173.9L675,177.1L697,179.9L705,177.5L717,171.5L724.9,168.5L733,166.1L738.2,165.5ZM1053.2,173L1059,172.5L1059,201.7L1023,201.2L983,201.5L951,205L933,205.8L919,205.1L915,204L909.8,201.5L904.8,200L899,199.2L877.3,201.5L866.3,203L863,204.1L859,204.3L836.1,200L832,198.5L830.7,197L831.1,195.5L832.6,194L837,192.2L877,184.7L899,183.4L939,184.7L953,181.7L965,180.1L981,178.8L1021,177.4L1053.2,173ZM857.5,206L859,205.1L861,204.9L872.2,206L911,206.8L937,212.2L956.5,215L959.2,216.5L957,218L955,218.6L941,221.6L919,223.7L899,224.3L849,221.9L841,220.8L835,219.3L831,217.2L830.2,216.5L829.7,215L830.8,213.5L835,211.5L857.5,206Z"/>
<path fill="#0e648c" fill-rule="evenodd" d="M85,17L345.3,17L341,21.4L337,23.3L331,24.9L317,27.2L310.5,29L307.5,30.5L299.9,36.5L291,40.6L264.9,47L249,48.9L209,45.7L167,46.8L129,45.7L109.6,44L85,40.9L85,17ZM909.9,20L939,19.1L961,20.7L995,27.5L1001,29.7L1015,36.9L1021,39.3L1025,39.6L1059,38.7L1059,60.6L1045,62L1021,65.8L981,70.1L973.9,69.5L955,65.9L941,64.4L901,61.6L855,61.2L841,59.7L830.7,57.5L825.9,56L820.5,53L817,47.8L815.9,44L817.4,38L819.2,35L830,29L837.5,26L855,22.8L909.9,20ZM734.9,167L743,166.8L758.1,168.5L761.6,170L763,171.5L763.3,173L761,176L756.6,179L749,182.5L741,185.1L733,186.1L715,185.4L713,184.5L712.3,183.5L712.2,182L714.1,179L723.6,171.5L730,168.5L734.9,167ZM486.3,171.5L493,171.2L511,173.2L531,174.2L615,174.9L660.3,177.5L675,179L682.1,180.5L685.5,182L689,184.7L691,185.5L707,187.5L709,188.5L713,192.4L714,194L713,196L711,197.3L699.9,201.5L698.8,203L704.9,212L708.5,215L717,217L731,218.2L761,217.5L780.3,218L787.6,219.5L791.8,221L795.8,224L796.5,227L793.5,233L789.2,236L779,238.8L763,241.1L759,242.7L752.3,246.5L741.5,251L737,252.2L731,252.5L683,250.4L615,245.5L535,244.7L457,240.2L413,239.7L407,239L391,235.3L368.5,233L349,229.3L287,223.7L281.5,222.5L278.4,221L277.6,219.5L278.4,218L285,214.9L293,212.6L296.6,212L291,211.6L271,208.4L243.7,206L237.1,204.5L234.2,203L232.9,201.5L232.6,200L233.2,197L234.3,194L235.6,192.5L238.3,191L241,190.2L251,188.9L287,189.2L299,188.5L314.7,186.5L329,182.6L333,182.2L407,184.5L427,187.4L441,188.7L453,189.3L463,188.8L471,187.5L473.2,186.5L474.1,185L469.8,179L469.6,177.5L470.4,176L472.8,174.5L477.8,173L486.3,171.5ZM485,217.9L483,218.4L482.1,219.5L484.7,221L489.4,222.5L495,223.4L507.6,224L535,225L615,225.1L653,227.4L659.9,227L664.9,225.5L663.1,224L659,223.4L637,221.9L613,219.5L533,219.9L495,217.7L485,217.9ZM1048.9,176L1059,174.6L1059,198.1L1023,199L981,198.9L939,203.1L931,202.2L911,197.9L901,196.5L893,196.8L859,200.2L847,198.7L843.7,197L844.4,195.5L847,194.2L853,192.8L873,190.6L895,187.2L903,187L939.2,189.5L945,188.6L962.6,183.5L973,181.6L983,180.7L1023,179.8L1035,178.4L1048.9,176ZM862,210.5L901,210L921.3,213.5L926.6,215L928.9,216.5L923,218.3L901,220.5L857,219.9L846.4,218L842.5,216.5L841.6,215L843.8,213.5L849.5,212L862,210.5Z"/>
<path fill="#0f6284" fill-rule="evenodd" d="M85,17L337.1,17L333.9,20L331,21.5L309,24.8L301,27L297.5,29L291.8,35L289,36.4L269,39.7L263,41.5L253,45.5L247,46.1L223,43.5L209,42.6L167,43.3L129,42L119.6,41L99,37.4L85,36.1L85,17ZM926.3,23L937,22.4L943,22.7L959,26.3L981,30.1L987,32.7L1007,44L1013,46.3L1019,47.7L1025,47.7L1059,43.3L1059,57.8L1039,59.5L1019,63L1001,64.6L981,67.3L963,63.8L933,60.9L901,59.2L859,59L849.8,57.5L844.7,56L841.5,54.5L839.7,53L836.9,47L836.3,44L837.5,38L839.3,35L850.4,29L855,27.1L861,26L897,25L926.3,23ZM736.7,168.5L742,168.5L753,170L756.2,171.5L756.1,173L741.3,180.5L737,181.6L733,181.4L729,180.2L727.3,179L726.8,177.5L728.1,174.5L730.3,171.5L732.4,170L736.7,168.5ZM490.3,174.5L495,174.2L517,175.4L573,176.8L613,176.8L631,177.9L657,178.7L668.6,180.5L671.3,182L671,182.3L669,183.7L660.3,186.5L659.9,188L665,190.2L679.3,194L679.5,195.5L673,198.1L670.7,200L670.5,201.5L675.6,207.5L676.6,209L676.6,210.5L675,212.5L671,214.7L665,216.3L659,217.2L651,217.2L613,213.4L535,213.9L495,211.6L451,210.8L405,207.6L393,203L389,202L379,200.4L371,199.8L357,201.2L341,205.1L335,206.1L291,208.8L273,206.6L247.5,204.5L243,203L241.2,201.5L240.7,200L240.8,197L241.7,194L243.2,192.5L247,191L253,190.6L295,190.7L315,189L329,186.5L335,186.2L407,189.4L435,191.5L503,195.3L509,196.2L511,197.1L513.7,200L519,202.2L531,203.8L539,203.5L549,201.5L551,200L550,198.5L547,197L537,194.6L519,193L507.2,189.5L491.4,186.5L488.1,185L484,182L482.8,180.5L482.6,179L483.7,177.5L485.9,176L490.3,174.5ZM1054.2,179L1059,178.1L1059,194.5L1021,196.8L975,196L967,196.6L941,200.3L936.6,200L930.8,198.5L927.6,197L926.9,195.5L931,194.6L949,193.5L955,192.6L975,185L981,183.6L1027,182.3L1043,180.9L1054.2,179ZM858.7,197L861.3,197L858.7,197ZM358.2,212L369,210.8L375,211L391.6,215L407,217.3L452.4,221L460.2,222.5L483,228.6L495,230.1L535,231L613,231.2L697,234.9L713,234.9L725.4,234.5L723,234.1L721.3,233L711,230.6L707.7,228.5L707.6,227L709.6,225.5L715.2,224L721,223.2L755,220.8L775,220.7L779,221.3L782.5,222.5L784.8,224L785.9,225.5L785.8,227L784.2,230L781.4,233L777,235L771,235L755,232.7L747,233L736.1,234.5L734.5,236L738.2,239L743.4,242L744.7,243.5L744.3,245L739,248.2L735,249.1L731,249.2L657,242.9L617,240.8L573,240.6L537,239.8L491,238.4L451,236.6L413,236.6L401,233.5L391,232.3L373,231L357,227.8L328.3,225.5L288.6,221L286.9,219.5L287.8,218L293,216.5L339,213.7L358.2,212ZM857.9,213.5L895,213.4L899,213.7L902.8,215L899.1,216.5L897,216.7L861,217.3L855.2,216.5L853.6,215L857.9,213.5Z"/>
<path fill="#105f7a" fill-rule="evenodd" d="M641.5,182L651,181L656.3,182L651,182.5L641.5,182ZM330.9,194L341,193.2L369,193L383.7,194L386.8,195.5L333,195.8L329.4,195.5L330.9,194ZM353.2,218L371,217.1L382.2,219.5L385.2,221L384.8,222.5L381,223.3L373,224L367,223.7L349.1,221L345.5,219.5L353.2,218Z"/>
<path fill="none" stroke="#101010" stroke-width="1.1" stroke-opacity="0.88" d="M565.0,78.4L548.0,81.5L533.0,86.1L515.0,88.0L505.0,89.8L499.0,92.1L492.1,98.0L482.4,102.5L471.5,105.5L457.0,107.9L447.0,108.5L413.0,107.9L375.0,103.7L371.0,104.0L369.0,105.0L367.0,107.1L365.9,110.0L366.0,111.5L367.0,115.1L369.0,118.6L371.0,120.6L373.0,121.7L419.0,126.7L440.3,131.0L473.0,136.4L479.9,138.5L493.2,144.5L517.0,146.7L537.0,150.0L573.0,150.5L577.2,149.0L585.0,144.3L593.0,140.9L605.0,137.7L615.0,136.3L627.0,138.0L639.0,140.6L645.0,142.7L655.0,147.6L693.0,148.5L713.0,145.3L753.0,141.9L755.0,141.3L757.0,139.5L758.7,135.5L759.0,122.0L757.0,117.4L755.0,115.6L751.0,114.7L737.0,114.3L727.1,111.5L720.9,108.5L707.0,98.6L697.5,93.5L653.0,87.5L615.0,89.0L578.6,78.5L573.0,77.7L565.0,78.4M1059.0,379.2L1038.0,377.0L1017.0,373.3L979.0,371.2L963.0,372.5L941.0,373.1L927.0,375.5L898.1,378.5L861.0,379.5L855.0,380.8L847.7,384.5M370.2,384.5L369.0,383.7L363.0,382.3L331.0,378.8L241.0,378.5L224.6,377.0L216.4,375.5L209.0,372.7L203.0,372.0L169.0,372.0L149.3,374.0L129.0,374.7L114.1,377.0L85.0,378.7M555.0,65.0L493.0,67.7L451.0,71.7L413.0,74.0L389.0,70.8L371.0,69.1L333.8,71.0L327.0,73.0L319.9,78.5L318.2,81.5L317.8,89.0L319.6,92.0L323.0,94.6L336.0,99.5L343.0,104.0L352.9,114.5L361.0,126.5L365.4,129.5L370.5,131.0L393.0,134.0L413.0,138.3L451.0,142.3L481.3,149.0L513.0,153.2L535.0,156.9L575.0,157.8L591.0,154.6L611.0,149.6L615.0,149.2L655.0,156.7L697.0,157.3L733.0,151.3L757.0,149.5L762.4,147.5L766.9,144.5L770.5,140.0L772.3,135.5L773.7,122.0L773.9,107.0L774.6,105.5L776.4,104.0L784.8,99.5L787.1,96.5L786.5,93.5L781.3,89.0L777.0,87.1L753.0,82.7L735.0,80.8L695.0,79.2L657.0,66.7L653.0,66.0L617.0,66.6L577.0,64.6L555.0,65.0M1059.0,97.5L1043.3,101.0L1029.4,105.5L1023.0,106.5L981.0,108.1L941.0,111.7L897.0,108.6L889.0,104.8L875.0,103.0L859.0,102.6L853.7,104.0L851.2,105.5L851.4,107.0L855.0,109.0L861.0,111.0L865.2,111.5L868.0,113.0L866.6,114.5L855.0,119.6L853.9,120.5L853.3,122.0L855.0,123.7L859.0,125.6L869.9,128.0L872.1,129.5L872.2,131.0L870.0,132.5L859.0,134.8L853.0,138.3L852.0,140.0L852.7,141.5L855.0,143.2L861.0,145.5L899.0,149.2L927.0,157.7L937.0,161.3L941.0,161.9L954.5,159.5L963.9,156.5L970.0,152.0L970.6,150.5L970.2,149.0L964.2,141.5L959.0,137.7L949.0,134.4L927.9,131.0L927.0,129.5L929.4,128.0L937.7,126.5L963.0,124.8L981.0,122.6L1019.0,123.5L1035.0,122.8L1049.0,121.2L1059.0,118.5M85.0,106.6L127.0,106.7L163.0,107.7L171.7,108.5L176.7,110.0L175.3,111.5L165.0,113.2L85.0,113.1M85.0,138.5L145.0,143.9L167.0,147.1L183.8,141.5L186.4,140.0L159.0,138.5L148.4,137.0L146.3,135.5L147.9,134.0L155.0,132.1L167.0,130.7L177.0,131.5L190.4,134.0L197.0,137.2L203.0,138.2L247.0,138.4L287.0,133.8L291.0,132.1L293.0,130.4L295.0,127.8L295.7,125.0L293.0,120.5L287.0,115.1L283.0,113.3L271.0,109.8L268.5,108.5L264.0,102.5L261.5,101.0L247.0,95.6L209.0,90.3L127.0,86.8L105.0,84.9L85.0,81.6M1059.0,138.6L1051.0,136.6L1039.0,135.0L1025.0,134.1L1017.0,134.7L1007.0,137.6L1001.6,140.0L992.6,147.5L991.3,149.0L991.2,150.5L995.0,152.8L1001.0,154.4L1019.0,156.3L1059.0,151.1M1059.0,356.5L1039.0,351.6L1025.0,349.3L1019.0,348.9L975.0,351.1L939.0,355.5L901.0,356.6L859.0,360.2L842.2,363.5L817.0,372.0L795.0,374.6L787.0,376.3L782.1,378.5L775.6,384.5M407.2,384.5L403.4,383.0L393.0,380.8L383.0,377.3L349.0,373.6L327.0,372.1L251.0,371.9L233.0,367.7L209.0,365.7L159.0,365.9L101.0,369.7L85.0,371.7M1059.0,81.0L1021.0,85.2L981.0,87.2L937.0,85.1L897.0,81.4L859.0,81.3L819.0,82.2L777.0,77.7L755.0,72.0L701.0,65.8L697.0,65.0L683.0,60.2L669.0,57.7L651.0,55.6L609.0,53.0L573.0,52.8L533.0,54.3L511.0,56.2L451.0,62.9L413.0,65.1L371.0,63.2L329.0,64.1L315.0,67.5L307.2,71.0L299.9,78.5L293.0,89.3L291.0,91.2L289.0,92.0L285.0,91.5L271.0,87.1L249.0,83.3L207.0,80.4L169.0,78.7L151.0,76.5L127.0,75.2L99.2,71.0L85.0,69.5M85.0,165.8L125.0,164.3L165.0,164.0L181.0,165.2L207.0,168.1L249.0,162.4L287.0,161.2L291.0,159.0L299.0,151.0L307.5,144.5L312.3,138.5L313.5,135.5L313.7,132.5L310.5,122.0L310.5,119.0L311.4,116.0L313.0,114.4L317.0,112.4L327.0,109.8L333.0,110.8L339.2,114.5L344.9,122.0L345.8,125.0L346.2,129.5L347.1,131.0L349.3,132.5L355.0,134.4L377.0,137.8L413.0,145.6L449.0,149.7L469.0,152.9L501.0,156.3L535.0,164.5L577.0,165.6L591.0,163.5L615.0,158.8L653.0,166.7L691.0,166.0L696.4,165.5L711.0,161.7L727.0,159.0L759.0,156.2L788.3,149.0L789.6,146.0L797.1,138.5L801.4,122.0L803.0,119.0L810.4,113.0L815.0,110.6L817.0,110.2L821.0,111.1L827.9,116.0L829.0,117.8L829.7,122.0L832.2,126.5L833.1,129.5L832.8,134.0L829.9,140.0L830.3,144.5L829.8,146.0L823.9,150.5L823.5,152.0L826.8,153.5L855.0,161.0L895.0,163.6L918.5,167.0L941.0,168.5L1021.0,164.2L1059.0,159.6M1059.0,255.5L1021.0,253.3L987.0,253.8L979.0,254.3L941.0,260.1L931.0,259.7L895.0,256.2L859.0,256.6L821.0,260.5L817.0,261.6L806.8,269.0L790.8,276.5L783.0,283.3L777.0,286.1L739.0,291.4L721.0,296.5L699.0,300.5L691.0,302.9L684.0,306.5L680.1,309.5L679.6,311.0L680.2,312.5L686.6,317.0L687.7,318.5L684.4,320.0L655.0,327.6L615.0,325.2L579.1,333.5L573.0,334.2L533.0,330.0L493.0,333.1L488.7,332.0L477.4,326.0L475.4,324.5L471.0,319.4L467.0,317.8L411.0,313.4L391.0,310.0L369.0,307.4L360.0,305.0L359.3,303.5L362.1,302.0L371.0,300.2L421.0,299.4L451.0,297.9L463.0,296.6L469.6,294.5L470.6,293.0L469.3,291.5L463.0,289.3L453.0,287.2L413.0,290.3L397.0,289.5L383.0,288.0L369.0,285.6L329.0,283.5L311.0,278.8L289.0,271.5L243.0,270.4L209.0,266.9L167.0,270.9L129.0,275.9L85.0,279.1M85.0,259.9L125.0,262.3L165.0,259.4L207.0,260.2L243.0,259.6L253.0,258.5L286.1,252.5L289.0,251.0L286.8,249.5L265.0,245.1L250.5,240.5L245.0,240.1L209.0,241.7L191.0,244.0L173.0,245.4L85.0,249.8M485.0,302.0L481.0,302.8L475.7,305.0L472.5,308.0L472.1,309.5L473.0,311.2L477.0,313.4L487.0,314.8L495.0,314.7L533.0,311.7L573.0,313.1L583.6,311.0L586.8,309.5L587.1,308.0L581.0,305.7L573.0,304.2L533.0,306.5L495.0,301.6L485.0,302.0M480.8,17.0L487.0,19.2L493.0,20.0L535.0,18.4L613.0,20.1L693.0,20.4L725.0,25.0L739.0,26.1L757.0,25.3L775.0,25.2L799.1,17.0M1059.0,70.0L1041.0,72.3L1021.0,75.9L983.0,77.1L943.0,74.7L917.0,71.0L899.0,69.4L853.0,69.8L817.0,72.6L792.3,71.0L779.0,69.8L769.0,65.7L736.7,60.5L727.0,53.8L719.0,50.4L687.0,43.0L635.0,38.3L613.0,37.2L579.0,36.6L513.0,39.0L487.0,41.3L453.0,41.3L411.0,38.3L369.0,38.5L337.0,42.2L329.0,43.8L309.7,51.5L291.0,61.8L287.0,63.0L209.0,56.8L167.0,60.1L129.0,61.8L85.0,61.4M328.1,122.0L329.0,121.5L330.4,122.0L331.3,123.5L329.0,124.8L327.4,123.5L328.1,122.0M363.9,146.0L369.0,145.0L373.0,145.9L377.8,149.0L379.1,150.5L378.9,152.0L376.0,153.5L371.0,154.3L361.0,154.2L354.1,153.5L353.2,152.0L354.4,150.5L363.9,146.0M85.0,179.9L119.6,174.5L129.0,174.0L161.1,179.0L187.0,185.9L205.0,189.2L219.0,185.9L235.0,184.0L249.0,182.9L287.0,181.7L293.1,180.5L304.3,176.0L310.9,171.5L327.0,157.8L331.0,155.9L335.0,155.6L340.9,156.5L343.6,159.5L350.2,162.5L363.0,165.7L371.0,166.8L391.0,164.5L409.0,160.2L413.0,159.8L487.0,160.7L493.0,161.3L511.0,167.1L531.0,170.2L573.0,171.1L613.0,170.9L655.0,172.8L693.0,171.9L699.0,171.0L723.0,165.0L735.0,162.9L763.0,162.6L779.0,161.3L817.0,163.0L841.0,167.9L875.0,171.1L905.0,173.4L935.0,174.5L961.0,173.8L1015.0,171.1L1059.0,166.8M161.0,211.9L150.0,213.5L146.0,215.0L146.4,216.5L153.0,217.9L165.0,218.7L205.0,217.7L243.0,215.6L247.8,215.0L251.3,213.5L249.1,212.0L245.0,211.7L161.0,211.9M1059.0,219.3L1028.5,213.5L1023.8,212.0L1026.4,209.0L1023.9,207.5L1021.0,207.3L1017.9,207.5L1015.7,209.0L1019.6,212.0L1005.5,218.0L1003.3,219.5L1002.7,221.0L1004.7,224.0L1008.7,227.0L1013.0,229.4L1017.0,230.7L1023.0,231.7L1059.0,234.6M85.0,227.7L127.0,226.8L137.7,225.5L141.6,224.0L139.0,222.2L129.0,221.0L85.0,220.5M1059.0,242.5L1023.0,240.7L1007.0,241.1L959.0,245.3L939.0,248.3L921.0,245.5L897.0,243.7L819.0,247.8L803.0,250.3L791.0,253.4L785.0,256.4L777.5,263.0L775.0,264.1L717.0,272.4L707.0,275.0L696.2,279.5L691.0,280.0L575.0,275.3L535.0,271.8L515.0,268.0L492.5,264.5L469.0,257.2L455.0,253.8L409.0,248.6L367.1,240.5L327.0,234.0L243.0,229.2L177.0,231.9L157.0,233.8L127.0,237.9L85.0,240.6M337.1,17.0L333.9,20.0L331.0,21.5L309.0,24.8L301.0,27.0L297.5,29.0L291.8,35.0L289.0,36.4L269.0,39.7L253.0,45.5L249.0,46.1L209.0,42.6L167.0,43.3L129.0,42.0L119.6,41.0L99.0,37.4L85.0,36.1M1059.0,57.8L1039.0,59.5L1019.0,63.0L1001.0,64.6L981.0,67.3L963.0,63.8L931.0,60.8L903.0,59.3L863.0,59.2L855.0,58.5L849.0,57.3L841.5,54.5L838.7,51.5L836.3,44.0L837.5,38.0L839.3,35.0L850.4,29.0L857.0,26.6L863.0,25.9L899.0,24.8L937.0,22.4L944.7,23.0L957.6,26.0L982.3,30.5L1007.0,44.0L1017.0,47.4L1025.0,47.7L1059.0,43.3M736.7,168.5L742.0,168.5L753.0,170.0L756.2,171.5L756.1,173.0L741.3,180.5L737.0,181.6L733.0,181.4L729.0,180.2L727.3,179.0L726.8,177.5L730.3,171.5L732.4,170.0L736.7,168.5M490.3,174.5L495.0,174.2L517.0,175.4L573.0,176.8L613.0,176.8L657.0,178.7L668.6,180.5L671.3,182.0L671.0,182.3L669.0,183.7L660.3,186.5L659.9,188.0L665.0,190.2L679.3,194.0L679.5,195.5L673.0,198.1L670.7,200.0L670.5,201.5L675.6,207.5L676.6,210.5L675.0,212.5L671.0,214.7L665.0,216.3L659.0,217.2L651.0,217.2L613.0,213.4L535.0,213.9L495.0,211.6L451.0,210.8L405.0,207.6L393.0,203.0L389.0,202.0L371.0,199.8L357.0,201.2L335.0,206.1L291.0,208.8L247.5,204.5L243.0,203.0L241.2,201.5L240.7,200.0L241.7,194.0L243.2,192.5L247.0,191.0L295.0,190.7L315.0,189.0L329.0,186.5L335.0,186.2L407.0,189.4L503.0,195.3L509.0,196.2L511.0,197.1L513.7,200.0L519.0,202.2L531.0,203.8L539.0,203.5L549.0,201.5L551.0,200.0L550.0,198.5L547.0,197.0L537.0,194.6L519.0,193.0L507.2,189.5L491.4,186.5L488.1,185.0L484.0,182.0L482.8,180.5L482.6,179.0L485.9,176.0L490.3,174.5M1059.0,194.5L1021.0,196.8L975.0,196.0L941.0,200.3L936.6,200.0L930.8,198.5L927.6,197.0L926.9,195.5L931.0,194.6L955.0,192.6L975.0,185.0L981.0,183.6L1033.0,181.9L1046.2,180.5L1059.0,178.1M858.7,197.0L861.3,197.0L858.7,197.0M358.2,212.0L369.0,210.8L375.0,211.0L391.6,215.0L407.0,217.3L452.4,221.0L460.2,222.5L483.0,228.6L495.0,230.1L535.0,231.0L613.0,231.2L697.0,234.9L713.0,234.9L725.4,234.5L711.0,230.6L707.7,228.5L707.6,227.0L709.6,225.5L721.0,223.2L755.0,220.8L775.0,220.7L782.5,222.5L784.8,224.0L785.9,225.5L785.8,227.0L784.2,230.0L781.4,233.0L777.0,235.0L771.0,235.0L755.0,232.7L747.0,233.0L736.1,234.5L734.5,236.0L743.4,242.0L744.7,243.5L744.3,245.0L739.0,248.2L735.0,249.1L731.0,249.2L657.0,242.9L617.0,240.8L537.0,239.8L451.0,236.6L413.0,236.6L401.0,233.5L373.0,231.0L357.0,227.8L328.3,225.5L288.6,221.0L286.9,219.5L287.8,218.0L293.0,216.5L339.0,213.7L358.2,212.0M857.9,213.5L895.0,213.4L899.0,213.7L902.8,215.0L899.1,216.5L897.0,216.7L861.0,217.3L855.2,216.5L853.6,215.0L857.9,213.5"/>
<g fill="none" stroke="#101010" stroke-opacity="0.9"><path d="M652 94.8H685M651.5 122.4H658.5M402 94.1H418M237.5 117.5H253" stroke-width="1.9"/><ellipse cx="693.5" cy="135.6" rx="5.6" ry="1.3" stroke-width="1"/><path d="M491.2 76.8L495 80L491.2 83.3L487.4 80Z" stroke-width="1"/><path d="M361.7 89.5Q372 84 383 89.5Q372 92.5 361.7 89.5Z" stroke-width="1"/><path d="M654 180Q677 177.6 700.8 180Q677 182.2 654 180Z" stroke-width="1.1"/><ellipse cx="455" cy="171.7" rx="9.5" ry="1.5" stroke-width="1"/><path d="M735.9 170.4L738 172.4L735.9 174.4L733.8 172.4Z" stroke-width="0.9"/></g>
</g>
<defs><linearGradient id="gA" x1="0" y1="0" x2="0" y2="1"><stop offset="0.0000" stop-color="#1d4a35"/><stop offset="0.0167" stop-color="#1c4c39"/><stop offset="0.0333" stop-color="#1c4d3e"/><stop offset="0.0500" stop-color="#1b4e42"/><stop offset="0.0667" stop-color="#1a5046"/><stop offset="0.0833" stop-color="#19514a"/><stop offset="0.1000" stop-color="#19524f"/><stop offset="0.1167" stop-color="#185453"/><stop offset="0.1333" stop-color="#175557"/><stop offset="0.1500" stop-color="#17565c"/><stop offset="0.1667" stop-color="#165760"/><stop offset="0.1833" stop-color="#155864"/><stop offset="0.2000" stop-color="#145967"/><stop offset="0.2167" stop-color="#145a6b"/><stop offset="0.2333" stop-color="#135c6f"/><stop offset="0.2500" stop-color="#125d72"/><stop offset="0.2667" stop-color="#115e76"/><stop offset="0.2833" stop-color="#105f7a"/><stop offset="0.3000" stop-color="#10607f"/><stop offset="0.3167" stop-color="#0f6284"/><stop offset="0.3333" stop-color="#0e6388"/><stop offset="0.3500" stop-color="#0e648c"/><stop offset="0.3667" stop-color="#0e658f"/><stop offset="0.3833" stop-color="#0e6692"/><stop offset="0.4000" stop-color="#0e6796"/><stop offset="0.4167" stop-color="#0e689b"/><stop offset="0.4333" stop-color="#0d69a0"/><stop offset="0.4500" stop-color="#0d6aa6"/><stop offset="0.4667" stop-color="#0c6cab"/><stop offset="0.4833" stop-color="#0c6eb0"/><stop offset="0.5000" stop-color="#0c6fb6"/><stop offset="0.5167" stop-color="#0f72ba"/><stop offset="0.5333" stop-color="#1275be"/><stop offset="0.5500" stop-color="#1679c2"/><stop offset="0.5667" stop-color="#197ec6"/><stop offset="0.5833" stop-color="#1c82ca"/><stop offset="0.6000" stop-color="#2086ce"/><stop offset="0.6167" stop-color="#258cd2"/><stop offset="0.6333" stop-color="#2a91d5"/><stop offset="0.6500" stop-color="#2f96d8"/><stop offset="0.6667" stop-color="#349cdc"/><stop offset="0.6833" stop-color="#3ba5e1"/><stop offset="0.7000" stop-color="#42aee6"/><stop offset="0.7167" stop-color="#48b5e9"/><stop offset="0.7333" stop-color="#4ebcec"/><stop offset="0.7500" stop-color="#4ac1ed"/><stop offset="0.7667" stop-color="#46c6ee"/><stop offset="0.7833" stop-color="#34d5f2"/><stop offset="0.8000" stop-color="#23e4f6"/><stop offset="0.8167" stop-color="#12f2fa"/><stop offset="0.8333" stop-color="#00ffff"/><stop offset="0.8500" stop-color="#1dfafc"/><stop offset="0.8667" stop-color="#3af6f8"/><stop offset="0.8833" stop-color="#54f4f6"/><stop offset="0.9000" stop-color="#6ef2f3"/><stop offset="0.9167" stop-color="#87f0f1"/><stop offset="0.9333" stop-color="#a0efef"/><stop offset="0.9500" stop-color="#b6eeee"/><stop offset="0.9667" stop-color="#cdeded"/><stop offset="0.9833" stop-color="#e1ecec"/><stop offset="1.0000" stop-color="#f5eaea"/></linearGradient></defs>
<rect x="1097.0" y="17.0" width="19.5" height="368.0" fill="url(#gA)"/>
<rect x="1097.0" y="17.0" width="19.5" height="368.0" fill="none" stroke="#262626" stroke-width="1"/>
<text x="1120.9" y="24.0" font-size="19" letter-spacing="-0.7" fill="#262626">-60</text>
<text x="1120.9" y="85.3" font-size="19" letter-spacing="-0.7" fill="#262626">-65</text>
<text x="1120.9" y="146.7" font-size="19" letter-spacing="-0.7" fill="#262626">-70</text>
<text x="1120.9" y="208.0" font-size="19" letter-spacing="-0.7" fill="#262626">-75</text>
<text x="1120.9" y="269.3" font-size="19" letter-spacing="-0.7" fill="#262626">-80</text>
<text x="1120.9" y="330.7" font-size="19" letter-spacing="-0.7" fill="#262626">-85</text>
<text x="1120.9" y="392.0" font-size="19" letter-spacing="-0.7" fill="#262626">-90</text>
<path d="M1116.5 17.0h-3M1116.5 78.3h-3M1116.5 139.7h-3M1116.5 201.0h-3M1116.5 262.3h-3M1116.5 323.7h-3M1116.5 385.0h-3" stroke="#262626" stroke-width="1"/>
<defs><clipPath id="cB"><rect x="76.8" y="478.3" width="982.5" height="366.90000000000003"/></clipPath></defs>
<g clip-path="url(#cB)">
<path fill="#00e1ff" d="M186.6,496.3L198.8,493.8L231.3,491.2L239.4,488.1L243.0,487.1L243.0,494.0L219.0,496.7L198.8,498.7L190.7,497.7Z"/>
<ellipse cx="118" cy="543.5" rx="9" ry="2.8" fill="#00e1ff"/>
<ellipse cx="115" cy="550.5" rx="6.5" ry="2.5" fill="#00e1ff"/>
<path fill="#00e1ff" d="M101.4,573.4L111.5,568.3L117.6,567.3L121.2,571.8L117.6,576.4L109.5,575.4L101.4,574.4Z"/>
<path fill="#00e1ff" d="M95.3,582.5L107.4,580.5L119.6,581.9L117.6,584.6L107.4,584.0L96.3,583.5Z"/>
<path fill="#00e1ff" d="M77.0,621.1L94.3,625.8L77.0,631.2Z"/>
<path fill="#00e1ff" d="M251.6,524.9L257.5,521.9L269.4,520.4L280.4,518.9L289.3,519.9L297.8,522.7L301.9,526.7L306.0,534.8L314.1,540.9L316.1,549.0L315.1,555.1L318.1,563.2L316.1,571.4L322.2,575.4L338.4,577.5L349.6,582.5L340.5,587.6L338.4,591.7L346.5,595.7L350.6,604.9L344.5,612.0L342.5,618.0L345.5,622.1L346.5,629.2L362.8,632.3L371.9,636.3L370.9,640.4L362.8,644.4L350.6,648.5L332.3,652.5L322.2,658.6L310.0,654.6L301.9,652.5L281.6,649.5L261.3,646.5L251.1,640.4L249.1,632.3L251.1,624.1L249.1,616.0L251.1,607.9L249.1,599.8L243.0,591.7L241.7,590.4L241.7,585.4L239.7,582.4L217.9,578.5L215.9,576.0L222.8,570.5L214.4,563.6L225.8,562.1L239.7,561.6L241.7,556.6L243.7,549.7L242.7,544.7L243.7,539.8L251.1,533.8Z"/>
<path fill="#0096ff" d="M267.4,530.8L279.6,524.7L289.7,530.8L299.9,536.9L308.0,543.0L310.0,551.1L308.0,559.2L303.9,567.3L308.0,573.4L318.1,577.5L332.3,581.5L322.2,585.6L318.1,589.6L330.3,595.7L338.4,601.8L339.4,607.9L334.4,614.0L326.2,618.0L318.1,620.1L312.0,624.1L316.1,632.3L326.2,636.3L328.3,638.3L322.2,641.4L301.9,642.4L281.6,641.4L263.3,638.3L261.3,630.2L263.3,620.1L259.3,612.0L263.3,603.8L267.4,597.7L253.2,593.7L247.6,585.4L241.7,579.4L235.7,576.5L247.6,568.5L250.6,562.6L249.1,555.1L251.1,540.9L261.3,534.8Z"/>
<path fill="#0028ff" d="M257.2,545.0L269.4,538.9L281.6,535.8L293.8,538.9L303.9,545.0L306.0,555.1L299.9,563.2L295.8,568.3L301.9,573.4L312.0,579.5L318.1,582.5L310.0,586.6L301.9,588.6L289.7,595.7L279.6,597.7L265.4,595.7L253.2,587.6L249.1,577.5L255.2,569.3L257.2,561.2L255.2,553.1Z"/>
<path fill="#0028ff" d="M269.4,607.9L281.6,601.8L301.9,599.8L324.2,599.8L330.3,605.9L324.2,616.0L301.9,617.0L281.6,616.0L271.4,612.0Z"/>
<path fill="#0028ff" d="M273.5,629.2L281.6,622.1L289.7,624.1L293.8,629.2L289.7,634.3L281.6,635.9L273.5,632.3Z"/>
<path fill="#0000c8" d="M261.9,553.1L265.0,544.7L272.0,540.8L281.2,539.3L290.5,541.6L296.7,547.7L297.1,554.7L293.6,560.1L285.9,563.2L284.3,566.3L283.5,568.6L286.6,573.2L295.1,576.3L304.4,579.4L308.2,583.2L301.3,587.1L292.0,591.0L281.2,592.5L270.4,590.2L261.9,584.0L262.7,579.4L270.4,575.5L276.6,570.9L277.4,567.0L274.3,564.0L265.0,560.9L261.9,557.0Z"/>
<path fill="#000080" d="M268.9,553.1L272.0,545.4L281.2,541.6L289.0,544.7L291.3,552.4L288.2,558.5L281.2,561.6L272.7,559.3L268.9,555.5Z"/>
<path fill="#000080" d="M269.7,583.2L275.1,580.2L281.2,577.8L289.7,579.4L296.7,582.5L290.5,586.3L281.2,588.6L272.7,586.3Z"/>
<path fill="#00e1ff" d="M321.2,673.2L324.2,674.2L326.2,681.3L340.5,683.3L341.5,688.4L338.4,697.5L330.3,700.6L332.3,705.6L326.2,708.7L330.3,712.7L336.4,720.9L339.4,733.0L336.4,741.2L332.3,749.3L336.4,757.4L344.5,771.6L346.5,781.7L342.5,789.9L334.4,796.0L336.4,798.0L330.3,802.0L322.2,804.1L312.0,801.0L307.0,796.0L303.9,791.9L306.0,785.8L297.8,783.8L298.8,771.6L306.0,767.5L306.0,761.5L310.0,753.3L306.0,747.2L308.0,741.2L301.9,737.1L306.0,729.0L308.0,722.9L314.1,714.8L318.1,710.7L316.1,704.6L312.0,699.5L308.0,697.5L314.1,688.4L314.1,682.3L320.2,678.2Z"/>
<path fill="#0096ff" d="M314.1,773.6L322.2,767.5L329.3,773.6L329.3,781.7L322.2,788.9L314.1,783.8Z"/>
<path fill="#00e1ff" d="M294.0,845.5L310.0,842.8L363.0,842.8L370.0,845.5Z"/>
<path fill="#00e1ff" d="M439.5,527.7L445.6,525.7L453.7,526.7L464.9,529.8L453.7,532.8L465.9,541.9L457.8,547.0L466.9,552.1L455.7,556.1L444.6,559.2L433.4,554.1L437.5,548.0L436.5,538.9L441.5,534.8L439.5,530.8Z"/>
<path fill="#00e1ff" d="M512.6,477.0L545.0,477.0L536.9,482.1L526.8,485.1L518.7,482.1Z"/>
<path fill="#00e1ff" d="M403.4,726.9L405.0,727.0L417.2,729.0L421.2,737.1L417.2,743.2L419.2,747.2L407.0,756.4L419.2,763.5L423.3,767.5L418.2,775.7L425.3,785.8L442.5,788.9L417.2,796.0L405.0,804.1L401.4,801.0L395.3,794.0L391.2,785.8L385.1,780.7L387.1,770.6L391.2,765.5L401.4,759.4L403.4,749.3L399.3,738.1L400.9,730.0Z"/>
<path fill="#00e1ff" d="M400.0,820.0L405.0,819.3L445.6,818.3L450.7,822.3L445.6,824.0L405.0,823.4L400.0,823.0Z"/>
<ellipse cx="526.8" cy="734.4" rx="4" ry="1.3" fill="#00e1ff"/>
<path fill="#00e1ff" d="M558.2,741.1L565.3,739.1L590.0,739.5L605.0,741.0L610.6,743.5L605.0,746.0L585.0,747.5L569.0,748.3L562.0,746.0Z"/>
<ellipse cx="566" cy="824" rx="5" ry="1.6" fill="#00e1ff"/>
<ellipse cx="648.6" cy="628.2" rx="9.6" ry="2" fill="#00e1ff"/>
<path fill="#00e1ff" d="M723.1,620.0L731.9,617.5L745.0,618.8L755.0,620.0L745.0,621.5L731.9,623.6Z"/>
<path fill="#00e1ff" d="M725.3,477.0L735.0,477.0L735.0,482.0Z"/>
<ellipse cx="649.4" cy="778" rx="4.5" ry="1.6" fill="#00e1ff"/>
<ellipse cx="650.5" cy="831.5" rx="8.6" ry="3" fill="#00e1ff"/>
<path fill="#00e1ff" d="M844.6,499.3L854.8,494.2L867.0,498.3L856.8,502.4L854.8,507.4L850.7,502.4Z"/>
<path fill="#00e1ff" d="M888.0,542.5L891.0,540.5L905.0,542.8L896.0,545.0L891.0,544.5Z"/>
<path fill="#00e1ff" d="M1013.7,491.2L1021.8,489.2L1038.1,490.6L1056.3,494.2L1042.1,497.3L1042.1,501.3L1027.9,503.4L1017.8,504.4L1010.7,501.3L1015.7,496.3Z"/>
<path fill="#00e1ff" d="M1047.2,552.5L1060.0,551.5L1060.0,555.3L1052.0,555.5Z"/>
<ellipse cx="1015.8" cy="622.2" rx="16.2" ry="3" fill="#00e1ff"/>
<path fill="#00e1ff" d="M926.4,656.6L936.6,653.6L965.0,651.5L967.0,649.5L977.2,648.1L981.2,650.5L983.3,654.6L977.2,657.6L956.9,658.6L936.6,659.7L927.5,658.2Z"/>
<path fill="#00e1ff" d="M997.5,794.3L1017.8,790.3L1047.2,794.3L1017.8,797.0Z"/>
<path fill="#00e1ff" d="M1013.3,799.6L1026.9,801.0L1018.0,805.7L1014.0,802.0Z"/>
<path fill="#ffff40" d="M93.2,615.2L101.4,609.1L117.6,603.4L129.8,605.9L137.9,610.9L140.9,616.0L135.9,619.1L117.6,621.1L101.4,619.1L93.2,616.0Z"/>
<path fill="#ffc000" d="M101.4,616.0L111.5,609.9L117.6,607.9L125.7,610.9L132.8,616.0L125.7,618.7L117.6,619.5L107.4,618.4Z"/>
<path fill="#ff8000" d="M109.5,615.6L117.6,612.0L124.7,615.6L117.6,618.0Z"/>
<path fill="#ffff40" d="M182.5,709.7L190.7,705.6L198.8,703.6L209.9,706.7L204.9,712.7L206.9,718.8L200.8,723.9L196.7,724.9L186.6,718.8L190.7,713.8L182.5,710.7Z"/>
<path fill="#ffff40" d="M186.6,731.0L196.7,727.0L203.9,732.0L198.8,736.7L186.6,732.0Z"/>
<ellipse cx="115.6" cy="767.1" rx="6.6" ry="2.3" fill="#ffff40"/>
<path fill="#ffff40" d="M196.7,752.3L200.8,754.3L199.8,757.4L203.9,761.5L199.8,764.5L204.9,768.6L200.8,772.6L208.9,777.7L203.9,781.7L204.9,784.8L198.8,788.9L193.7,785.8L194.7,781.7L187.6,777.7L193.7,772.6L190.7,768.6L194.7,764.5L192.7,761.5L196.7,757.4L195.7,754.3Z"/>
<path fill="#ffff40" d="M187.6,824.4L198.8,816.3L206.9,820.3L241.0,825.4L281.6,826.8L293.8,833.5L281.6,834.5L241.0,837.0L223.1,838.0L215.0,831.5L206.9,827.4L190.7,825.4Z"/>
<path fill="#ffff40" d="M76.0,835.5L89.0,836.5L116.0,846.0L76.0,846.0Z"/>
<path fill="#ffff40" d="M269.4,675.2L277.5,672.1L284.6,674.2L282.6,681.3L283.6,689.4L278.5,690.4L275.5,686.4L280.6,681.3L273.5,678.2Z"/>
<ellipse cx="197.7" cy="625.2" rx="3" ry="0.9" fill="#ffff40"/>
<path fill="#ffff40" d="M503.4,513.5L526.8,506.4L553.2,513.5L526.8,514.8Z"/>
<ellipse cx="527" cy="513" rx="11" ry="1.3" fill="#ffc000"/>
<path fill="#ffff40" d="M431.4,629.2L445.6,625.8L486.2,626.6L503.4,630.2L494.3,636.3L486.2,640.4L465.9,635.3L445.6,633.3L435.4,631.2Z"/>
<ellipse cx="450.9" cy="618.6" rx="7.3" ry="1.5" fill="#ffff40"/>
<ellipse cx="485.6" cy="761.9" rx="8.6" ry="2.5" fill="#ffff40"/>
<ellipse cx="687.2" cy="507.8" rx="7.6" ry="2" fill="#ffff40"/>
<path fill="#ffff40" d="M708.0,532.8L723.3,527.7L733.0,526.7L745.0,528.0L759.4,531.2L735.0,543.0L753.3,556.1L735.0,567.3L733.0,573.4L728.3,571.4L726.3,564.3L716.1,557.2L718.2,552.1L727.3,547.0L729.3,540.9L719.2,536.9Z"/>
<path fill="#ffff40" d="M718.7,560.0L748.4,560.0L735.0,566.0L731.0,572.1L727.0,566.0Z"/>
<path fill="#ffff40" d="M609.6,593.7L629.9,589.6L650.2,587.6L670.5,589.6L690.8,590.6L706.5,589.2L730.8,583.7L739.6,586.5L748.4,594.2L756.2,599.1L773.8,600.8L780.4,598.6L775.6,591.7L776.6,579.5L777.7,567.3L776.6,555.1L779.7,547.0L787.8,538.9L783.7,531.8L800.0,527.7L818.2,528.7L824.3,531.8L826.4,536.9L842.6,540.9L848.7,545.0L850.7,551.1L854.8,563.2L860.9,567.3L854.8,573.4L854.8,585.6L871.0,588.6L893.3,593.7L893.3,597.7L883.2,599.8L895.4,602.8L895.4,609.9L879.1,614.0L877.1,620.1L881.2,624.1L879.1,632.3L875.1,638.3L854.8,642.4L834.5,645.4L814.2,647.5L800.0,648.2L789.8,647.5L773.8,647.1L756.2,644.9L750.1,641.6L758.4,639.4L773.8,638.3L780.4,635.0L782.6,629.5L793.6,622.8L799.2,619.5L793.6,611.8L780.4,604.1L773.8,606.3L767.2,606.3L750.6,607.4L730.8,608.0L715.1,603.8L711.1,599.8L682.7,599.8L678.6,603.8L650.2,607.9L619.7,604.9L617.7,599.8Z"/>
<ellipse cx="651" cy="599" rx="12.5" ry="3.6" fill="#ffc000"/>
<ellipse cx="657" cy="621.7" rx="20" ry="0.8" fill="#ffff40"/>
<path fill="#ffc000" d="M781.7,551.1L793.9,545.0L814.2,543.0L834.5,545.0L843.6,549.0L846.7,563.2L849.7,575.4L848.7,585.6L858.8,595.7L858.8,599.8L875.1,609.9L875.1,616.0L854.8,618.0L830.4,618.0L826.4,620.1L864.9,626.2L867.0,630.2L854.8,636.3L834.5,638.3L814.2,640.4L795.9,636.3L793.9,628.2L804.0,622.1L793.9,618.0L783.7,609.9L779.7,601.8L781.7,591.7L783.7,579.5L781.7,563.2Z"/>
<path fill="#ff8000" d="M787.8,549.0L798.0,545.0L814.2,544.0L830.4,545.0L838.5,549.0L840.6,563.2L842.6,575.4L842.6,587.6L846.7,597.7L856.8,607.9L856.8,616.0L830.4,616.0L814.2,614.0L793.9,607.9L787.8,601.8L787.8,587.6L788.8,575.4L786.8,559.2Z"/>
<path fill="#ff8000" d="M806.1,630.2L818.2,626.2L854.8,627.2L846.7,630.2L818.2,634.3Z"/>
<path fill="#ff2000" d="M792.9,550.1L802.0,546.0L814.2,545.0L828.4,546.0L835.5,550.1L836.5,563.2L838.5,579.5L838.5,591.7L834.5,601.8L818.2,609.9L810.1,609.9L800.0,603.8L793.9,595.7L793.9,579.5L792.9,563.2Z"/>
<path fill="#b00000" d="M798.0,551.1L806.1,547.0L822.3,547.0L830.4,551.1L832.5,565.3L830.4,583.5L828.4,595.7L820.3,603.8L812.2,604.9L804.0,597.7L798.0,587.6L798.0,569.3Z"/>
<path fill="#800000" d="M803.0,553.1L814.2,549.0L824.3,553.1L826.4,569.3L824.3,587.6L820.3,595.7L814.2,599.8L808.1,595.7L803.0,583.5L803.0,567.3Z"/>
<path fill="#ffff40" d="M637.0,648.5L650.2,643.4L670.5,642.4L694.8,643.4L708.0,649.5L690.8,652.5L670.5,656.6L656.0,663.6L644.0,663.6L639.0,660.0L637.0,654.6Z"/>
<ellipse cx="655.7" cy="674.6" rx="18.8" ry="3.9" fill="#ffff40"/>
<ellipse cx="659.1" cy="686" rx="19.5" ry="3.6" fill="#ffff40"/>
<path fill="#ffff40" d="M700.0,681.0L710.0,677.0L733.0,676.2L768.5,679.0L745.0,684.0L733.0,686.4L710.0,686.0L702.0,684.0Z"/>
<path fill="#ffff40" d="M707.0,745.0L712.0,739.0L725.0,737.0L733.0,737.1L751.3,740.1L754.3,744.2L751.3,749.3L753.3,756.4L745.2,760.4L733.0,762.5L720.0,761.0L710.0,755.0L708.0,750.0Z"/>
<path fill="#ffff40" d="M714.1,785.0L725.0,782.0L733.0,781.7L748.2,784.8L733.0,789.9L720.0,788.5Z"/>
<path fill="#ffff40" d="M784.8,709.7L793.9,702.6L814.2,697.5L854.8,695.5L866.0,699.5L862.9,706.7L854.8,712.7L834.5,716.8L814.2,718.8L793.9,715.8Z"/>
<ellipse cx="814.2" cy="711.1" rx="3" ry="1.3" fill="#ffc000"/>
<ellipse cx="826.5" cy="726.5" rx="29" ry="5" fill="#ffff40"/>
<path fill="#ffff40" d="M796.9,742.2L814.2,737.1L854.8,737.5L862.9,741.2L854.8,747.2L834.5,751.3L824.3,755.4L828.4,763.5L814.2,767.5L806.1,766.5L804.0,759.4L800.0,751.3Z"/>
<path fill="#ffff40" d="M757.4,846.0L761.4,835.5L773.6,834.1L792.9,836.5L787.8,843.6L785.0,846.0Z"/>
<ellipse cx="893" cy="681.5" rx="5" ry="1.8" fill="#ffff40"/>
</g>
<defs><linearGradient id="gB" x1="0" y1="0" x2="0" y2="1"><stop offset="0.0000" stop-color="#890000"/><stop offset="0.0179" stop-color="#890000"/><stop offset="0.0179" stop-color="#9b0000"/><stop offset="0.0357" stop-color="#9b0000"/><stop offset="0.0357" stop-color="#ad0000"/><stop offset="0.0536" stop-color="#ad0000"/><stop offset="0.0536" stop-color="#bf0000"/><stop offset="0.0714" stop-color="#bf0000"/><stop offset="0.0714" stop-color="#d10000"/><stop offset="0.0893" stop-color="#d10000"/><stop offset="0.0893" stop-color="#e20000"/><stop offset="0.1071" stop-color="#e20000"/><stop offset="0.1071" stop-color="#f30000"/><stop offset="0.1250" stop-color="#f30000"/><stop offset="0.1250" stop-color="#ff0700"/><stop offset="0.1429" stop-color="#ff0700"/><stop offset="0.1429" stop-color="#ff2000"/><stop offset="0.1607" stop-color="#ff2000"/><stop offset="0.1607" stop-color="#ff3900"/><stop offset="0.1786" stop-color="#ff3900"/><stop offset="0.1786" stop-color="#ff4f00"/><stop offset="0.1964" stop-color="#ff4f00"/><stop offset="0.1964" stop-color="#ff6000"/><stop offset="0.2143" stop-color="#ff6000"/><stop offset="0.2143" stop-color="#ff7200"/><stop offset="0.2321" stop-color="#ff7200"/><stop offset="0.2321" stop-color="#ff8300"/><stop offset="0.2500" stop-color="#ff8300"/><stop offset="0.2500" stop-color="#ff9400"/><stop offset="0.2679" stop-color="#ff9400"/><stop offset="0.2679" stop-color="#ffa200"/><stop offset="0.2857" stop-color="#ffa200"/><stop offset="0.2857" stop-color="#ffb100"/><stop offset="0.3036" stop-color="#ffb100"/><stop offset="0.3036" stop-color="#ffc000"/><stop offset="0.3214" stop-color="#ffc000"/><stop offset="0.3214" stop-color="#ffd100"/><stop offset="0.3393" stop-color="#ffd100"/><stop offset="0.3393" stop-color="#ffe200"/><stop offset="0.3571" stop-color="#ffe200"/><stop offset="0.3571" stop-color="#fff300"/><stop offset="0.3750" stop-color="#fff300"/><stop offset="0.3750" stop-color="#ffff0d"/><stop offset="0.3929" stop-color="#ffff0d"/><stop offset="0.3929" stop-color="#ffff38"/><stop offset="0.4107" stop-color="#ffff38"/><stop offset="0.4107" stop-color="#ffff63"/><stop offset="0.4286" stop-color="#ffff63"/><stop offset="0.4286" stop-color="#ffff8b"/><stop offset="0.4464" stop-color="#ffff8b"/><stop offset="0.4464" stop-color="#ffffb0"/><stop offset="0.4643" stop-color="#ffffb0"/><stop offset="0.4643" stop-color="#ffffd6"/><stop offset="0.4821" stop-color="#ffffd6"/><stop offset="0.4821" stop-color="#ffffff"/><stop offset="0.5000" stop-color="#ffffff"/><stop offset="0.5000" stop-color="#ffffff"/><stop offset="0.5179" stop-color="#ffffff"/><stop offset="0.5179" stop-color="#ffffff"/><stop offset="0.5357" stop-color="#ffffff"/><stop offset="0.5357" stop-color="#ffffff"/><stop offset="0.5536" stop-color="#ffffff"/><stop offset="0.5536" stop-color="#ffffff"/><stop offset="0.5714" stop-color="#ffffff"/><stop offset="0.5714" stop-color="#ffffff"/><stop offset="0.5893" stop-color="#ffffff"/><stop offset="0.5893" stop-color="#71fdff"/><stop offset="0.6071" stop-color="#71fdff"/><stop offset="0.6071" stop-color="#00f2ff"/><stop offset="0.6250" stop-color="#00f2ff"/><stop offset="0.6250" stop-color="#00e3ff"/><stop offset="0.6429" stop-color="#00e3ff"/><stop offset="0.6429" stop-color="#00d2ff"/><stop offset="0.6607" stop-color="#00d2ff"/><stop offset="0.6607" stop-color="#00beff"/><stop offset="0.6786" stop-color="#00beff"/><stop offset="0.6786" stop-color="#00aaff"/><stop offset="0.6964" stop-color="#00aaff"/><stop offset="0.6964" stop-color="#0096ff"/><stop offset="0.7143" stop-color="#0096ff"/><stop offset="0.7143" stop-color="#0082ff"/><stop offset="0.7321" stop-color="#0082ff"/><stop offset="0.7321" stop-color="#006eff"/><stop offset="0.7500" stop-color="#006eff"/><stop offset="0.7500" stop-color="#005aff"/><stop offset="0.7679" stop-color="#005aff"/><stop offset="0.7679" stop-color="#0046ff"/><stop offset="0.7857" stop-color="#0046ff"/><stop offset="0.7857" stop-color="#0034fc"/><stop offset="0.8036" stop-color="#0034fc"/><stop offset="0.8036" stop-color="#0025f6"/><stop offset="0.8214" stop-color="#0025f6"/><stop offset="0.8214" stop-color="#0016ef"/><stop offset="0.8393" stop-color="#0016ef"/><stop offset="0.8393" stop-color="#0007e9"/><stop offset="0.8571" stop-color="#0007e9"/><stop offset="0.8571" stop-color="#0000de"/><stop offset="0.8750" stop-color="#0000de"/><stop offset="0.8750" stop-color="#0000cf"/><stop offset="0.8929" stop-color="#0000cf"/><stop offset="0.8929" stop-color="#0000c0"/><stop offset="0.9107" stop-color="#0000c0"/><stop offset="0.9107" stop-color="#0000b1"/><stop offset="0.9286" stop-color="#0000b1"/><stop offset="0.9286" stop-color="#0000a5"/><stop offset="0.9464" stop-color="#0000a5"/><stop offset="0.9464" stop-color="#00009a"/><stop offset="0.9643" stop-color="#00009a"/><stop offset="0.9643" stop-color="#000090"/><stop offset="0.9821" stop-color="#000090"/><stop offset="0.9821" stop-color="#000085"/><stop offset="1.0000" stop-color="#000085"/></linearGradient></defs>
<rect x="1094.3" y="478.3" width="19.700000000000045" height="367.09999999999997" fill="url(#gB)"/>
<rect x="1094.3" y="478.3" width="19.700000000000045" height="367.09999999999997" fill="none" stroke="#262626" stroke-width="1"/>
<text x="1119.5" y="512.1" font-size="19" letter-spacing="-0.7" fill="#262626">0.06</text>
<text x="1119.5" y="564.6" font-size="19" letter-spacing="-0.7" fill="#262626">0.04</text>
<text x="1119.5" y="617.0" font-size="19" letter-spacing="-0.7" fill="#262626">0.02</text>
<text x="1119.5" y="669.5" font-size="19" letter-spacing="-0.7" fill="#262626">0</text>
<text x="1119.5" y="721.9" font-size="19" letter-spacing="-0.7" fill="#262626">-0.02</text>
<text x="1119.5" y="774.3" font-size="19" letter-spacing="-0.7" fill="#262626">-0.04</text>
<text x="1119.5" y="826.8" font-size="19" letter-spacing="-0.7" fill="#262626">-0.06</text>
<path d="M1114.0 504.5h-3M1114.0 557.0h-3M1114.0 609.4h-3M1114.0 661.9h-3M1114.0 714.3h-3M1114.0 766.7h-3M1114.0 819.2h-3" stroke="#262626" stroke-width="1"/>
<line x1="126.37" y1="17.0" x2="126.37" y2="385.2" stroke="#262626" stroke-opacity="0.2" stroke-width="1"/>
<line x1="167.04" y1="17.0" x2="167.04" y2="385.2" stroke="#262626" stroke-opacity="0.2" stroke-width="1"/>
<line x1="207.71" y1="17.0" x2="207.71" y2="385.2" stroke="#262626" stroke-opacity="0.2" stroke-width="1"/>
<line x1="248.38" y1="17.0" x2="248.38" y2="385.2" stroke="#262626" stroke-opacity="0.2" stroke-width="1"/>
<line x1="289.05" y1="17.0" x2="289.05" y2="385.2" stroke="#262626" stroke-opacity="0.2" stroke-width="1"/>
<line x1="329.72" y1="17.0" x2="329.72" y2="385.2" stroke="#262626" stroke-opacity="0.2" stroke-width="1"/>
<line x1="370.39" y1="17.0" x2="370.39" y2="385.2" stroke="#262626" stroke-opacity="0.2" stroke-width="1"/>
<line x1="411.06" y1="17.0" x2="411.06" y2="385.2" stroke="#262626" stroke-opacity="0.2" stroke-width="1"/>
<line x1="451.73" y1="17.0" x2="451.73" y2="385.2" stroke="#262626" stroke-opacity="0.2" stroke-width="1"/>
<line x1="492.40" y1="17.0" x2="492.40" y2="385.2" stroke="#262626" stroke-opacity="0.2" stroke-width="1"/>
<line x1="533.07" y1="17.0" x2="533.07" y2="385.2" stroke="#262626" stroke-opacity="0.2" stroke-width="1"/>
<line x1="573.74" y1="17.0" x2="573.74" y2="385.2" stroke="#262626" stroke-opacity="0.2" stroke-width="1"/>
<line x1="614.41" y1="17.0" x2="614.41" y2="385.2" stroke="#262626" stroke-opacity="0.2" stroke-width="1"/>
<line x1="655.08" y1="17.0" x2="655.08" y2="385.2" stroke="#262626" stroke-opacity="0.2" stroke-width="1"/>
<line x1="695.75" y1="17.0" x2="695.75" y2="385.2" stroke="#262626" stroke-opacity="0.2" stroke-width="1"/>
<line x1="736.42" y1="17.0" x2="736.42" y2="385.2" stroke="#262626" stroke-opacity="0.2" stroke-width="1"/>
<line x1="777.09" y1="17.0" x2="777.09" y2="385.2" stroke="#262626" stroke-opacity="0.2" stroke-width="1"/>
<line x1="817.76" y1="17.0" x2="817.76" y2="385.2" stroke="#262626" stroke-opacity="0.2" stroke-width="1"/>
<line x1="858.43" y1="17.0" x2="858.43" y2="385.2" stroke="#262626" stroke-opacity="0.2" stroke-width="1"/>
<line x1="899.10" y1="17.0" x2="899.10" y2="385.2" stroke="#262626" stroke-opacity="0.2" stroke-width="1"/>
<line x1="939.77" y1="17.0" x2="939.77" y2="385.2" stroke="#262626" stroke-opacity="0.2" stroke-width="1"/>
<line x1="980.44" y1="17.0" x2="980.44" y2="385.2" stroke="#262626" stroke-opacity="0.2" stroke-width="1"/>
<line x1="1021.11" y1="17.0" x2="1021.11" y2="385.2" stroke="#262626" stroke-opacity="0.2" stroke-width="1"/>
<line x1="85.0" y1="42.00" x2="1059.5" y2="42.00" stroke="#262626" stroke-opacity="0.2" stroke-width="1"/>
<line x1="85.0" y1="91.00" x2="1059.5" y2="91.00" stroke="#262626" stroke-opacity="0.2" stroke-width="1"/>
<line x1="85.0" y1="140.00" x2="1059.5" y2="140.00" stroke="#262626" stroke-opacity="0.2" stroke-width="1"/>
<line x1="85.0" y1="189.00" x2="1059.5" y2="189.00" stroke="#262626" stroke-opacity="0.2" stroke-width="1"/>
<line x1="85.0" y1="238.00" x2="1059.5" y2="238.00" stroke="#262626" stroke-opacity="0.2" stroke-width="1"/>
<line x1="85.0" y1="287.00" x2="1059.5" y2="287.00" stroke="#262626" stroke-opacity="0.2" stroke-width="1"/>
<line x1="85.0" y1="336.00" x2="1059.5" y2="336.00" stroke="#262626" stroke-opacity="0.2" stroke-width="1"/>
<line x1="117.58" y1="478.3" x2="117.58" y2="845.2" stroke="#262626" stroke-opacity="0.18" stroke-width="1"/>
<line x1="158.56" y1="478.3" x2="158.56" y2="845.2" stroke="#262626" stroke-opacity="0.18" stroke-width="1"/>
<line x1="199.54" y1="478.3" x2="199.54" y2="845.2" stroke="#262626" stroke-opacity="0.18" stroke-width="1"/>
<line x1="240.52" y1="478.3" x2="240.52" y2="845.2" stroke="#262626" stroke-opacity="0.18" stroke-width="1"/>
<line x1="281.50" y1="478.3" x2="281.50" y2="845.2" stroke="#262626" stroke-opacity="0.18" stroke-width="1"/>
<line x1="322.48" y1="478.3" x2="322.48" y2="845.2" stroke="#262626" stroke-opacity="0.18" stroke-width="1"/>
<line x1="363.46" y1="478.3" x2="363.46" y2="845.2" stroke="#262626" stroke-opacity="0.18" stroke-width="1"/>
<line x1="404.44" y1="478.3" x2="404.44" y2="845.2" stroke="#262626" stroke-opacity="0.18" stroke-width="1"/>
<line x1="445.42" y1="478.3" x2="445.42" y2="845.2" stroke="#262626" stroke-opacity="0.18" stroke-width="1"/>
<line x1="486.40" y1="478.3" x2="486.40" y2="845.2" stroke="#262626" stroke-opacity="0.18" stroke-width="1"/>
<line x1="527.38" y1="478.3" x2="527.38" y2="845.2" stroke="#262626" stroke-opacity="0.18" stroke-width="1"/>
<line x1="568.36" y1="478.3" x2="568.36" y2="845.2" stroke="#262626" stroke-opacity="0.18" stroke-width="1"/>
<line x1="609.34" y1="478.3" x2="609.34" y2="845.2" stroke="#262626" stroke-opacity="0.18" stroke-width="1"/>
<line x1="650.32" y1="478.3" x2="650.32" y2="845.2" stroke="#262626" stroke-opacity="0.18" stroke-width="1"/>
<line x1="691.30" y1="478.3" x2="691.30" y2="845.2" stroke="#262626" stroke-opacity="0.18" stroke-width="1"/>
<line x1="732.28" y1="478.3" x2="732.28" y2="845.2" stroke="#262626" stroke-opacity="0.18" stroke-width="1"/>
<line x1="773.26" y1="478.3" x2="773.26" y2="845.2" stroke="#262626" stroke-opacity="0.18" stroke-width="1"/>
<line x1="814.24" y1="478.3" x2="814.24" y2="845.2" stroke="#262626" stroke-opacity="0.18" stroke-width="1"/>
<line x1="855.22" y1="478.3" x2="855.22" y2="845.2" stroke="#262626" stroke-opacity="0.18" stroke-width="1"/>
<line x1="896.20" y1="478.3" x2="896.20" y2="845.2" stroke="#262626" stroke-opacity="0.18" stroke-width="1"/>
<line x1="937.18" y1="478.3" x2="937.18" y2="845.2" stroke="#262626" stroke-opacity="0.18" stroke-width="1"/>
<line x1="978.16" y1="478.3" x2="978.16" y2="845.2" stroke="#262626" stroke-opacity="0.18" stroke-width="1"/>
<line x1="1019.14" y1="478.3" x2="1019.14" y2="845.2" stroke="#262626" stroke-opacity="0.18" stroke-width="1"/>
<line x1="76.8" y1="501.40" x2="1059.3" y2="501.40" stroke="#262626" stroke-opacity="0.18" stroke-width="1"/>
<line x1="76.8" y1="550.51" x2="1059.3" y2="550.51" stroke="#262626" stroke-opacity="0.18" stroke-width="1"/>
<line x1="76.8" y1="599.63" x2="1059.3" y2="599.63" stroke="#262626" stroke-opacity="0.18" stroke-width="1"/>
<line x1="76.8" y1="648.74" x2="1059.3" y2="648.74" stroke="#262626" stroke-opacity="0.18" stroke-width="1"/>
<line x1="76.8" y1="697.86" x2="1059.3" y2="697.86" stroke="#262626" stroke-opacity="0.18" stroke-width="1"/>
<line x1="76.8" y1="746.97" x2="1059.3" y2="746.97" stroke="#262626" stroke-opacity="0.18" stroke-width="1"/>
<line x1="76.8" y1="796.09" x2="1059.3" y2="796.09" stroke="#262626" stroke-opacity="0.18" stroke-width="1"/>
<path d="M126.37 17.0v10M126.37 385.2v-10M167.04 17.0v10M167.04 385.2v-10M207.71 17.0v10M207.71 385.2v-10M248.38 17.0v10M248.38 385.2v-10M289.05 17.0v10M289.05 385.2v-10M329.72 17.0v10M329.72 385.2v-10M370.39 17.0v10M370.39 385.2v-10M411.06 17.0v10M411.06 385.2v-10M451.73 17.0v10M451.73 385.2v-10M492.40 17.0v10M492.40 385.2v-10M533.07 17.0v10M533.07 385.2v-10M573.74 17.0v10M573.74 385.2v-10M614.41 17.0v10M614.41 385.2v-10M655.08 17.0v10M655.08 385.2v-10M695.75 17.0v10M695.75 385.2v-10M736.42 17.0v10M736.42 385.2v-10M777.09 17.0v10M777.09 385.2v-10M817.76 17.0v10M817.76 385.2v-10M858.43 17.0v10M858.43 385.2v-10M899.10 17.0v10M899.10 385.2v-10M939.77 17.0v10M939.77 385.2v-10M980.44 17.0v10M980.44 385.2v-10M1021.11 17.0v10M1021.11 385.2v-10M85.0 42.00h10M1059.5 42.00h-10M85.0 91.00h10M1059.5 91.00h-10M85.0 140.00h10M1059.5 140.00h-10M85.0 189.00h10M1059.5 189.00h-10M85.0 238.00h10M1059.5 238.00h-10M85.0 287.00h10M1059.5 287.00h-10M85.0 336.00h10M1059.5 336.00h-10M85.0 385.00h10M1059.5 385.00h-10" stroke="#262626" stroke-width="1.2" fill="none"/>
<rect x="85.0" y="17.0" width="974.5" height="368.2" fill="none" stroke="#262626" stroke-width="1.3"/>
<path d="M117.58 478.3v10M117.58 845.2v-10M158.56 478.3v10M158.56 845.2v-10M199.54 478.3v10M199.54 845.2v-10M240.52 478.3v10M240.52 845.2v-10M281.50 478.3v10M281.50 845.2v-10M322.48 478.3v10M322.48 845.2v-10M363.46 478.3v10M363.46 845.2v-10M404.44 478.3v10M404.44 845.2v-10M445.42 478.3v10M445.42 845.2v-10M486.40 478.3v10M486.40 845.2v-10M527.38 478.3v10M527.38 845.2v-10M568.36 478.3v10M568.36 845.2v-10M609.34 478.3v10M609.34 845.2v-10M650.32 478.3v10M650.32 845.2v-10M691.30 478.3v10M691.30 845.2v-10M732.28 478.3v10M732.28 845.2v-10M773.26 478.3v10M773.26 845.2v-10M814.24 478.3v10M814.24 845.2v-10M855.22 478.3v10M855.22 845.2v-10M896.20 478.3v10M896.20 845.2v-10M937.18 478.3v10M937.18 845.2v-10M978.16 478.3v10M978.16 845.2v-10M1019.14 478.3v10M1019.14 845.2v-10M76.8 501.40h10M1059.3 501.40h-10M76.8 550.51h10M1059.3 550.51h-10M76.8 599.63h10M1059.3 599.63h-10M76.8 648.74h10M1059.3 648.74h-10M76.8 697.86h10M1059.3 697.86h-10M76.8 746.97h10M1059.3 746.97h-10M76.8 796.09h10M1059.3 796.09h-10M76.8 845.20h10M1059.3 845.20h-10" stroke="#262626" stroke-width="1.2" fill="none"/>
<rect x="76.8" y="478.3" width="982.5" height="366.90000000000003" fill="none" stroke="#262626" stroke-width="1.3"/>
<path d="M311.7 17.5L310 385.3M815.7 20.3L814 386.5" stroke="#0e2419" stroke-width="3.1"/>
<path d="M304.6 477.2L302.8 844M814 477.2L812 844" stroke="#0e2419" stroke-width="3.4"/>
<g font-size="21.3" fill="#262626">
<text x="77.8" y="50.5" text-anchor="end">100</text>
<text x="77.8" y="99.5" text-anchor="end">200</text>
<text x="77.8" y="148.5" text-anchor="end">300</text>
<text x="77.8" y="197.5" text-anchor="end">400</text>
<text x="77.8" y="246.5" text-anchor="end">500</text>
<text x="77.8" y="295.5" text-anchor="end">600</text>
<text x="77.8" y="344.5" text-anchor="end">700</text>
<text x="77.8" y="393.5" text-anchor="end">800</text>
<text x="69.6" y="509.9" text-anchor="end">100</text>
<text x="69.6" y="559.0" text-anchor="end">200</text>
<text x="69.6" y="608.1" text-anchor="end">300</text>
<text x="69.6" y="657.2" text-anchor="end">400</text>
<text x="69.6" y="706.4" text-anchor="end">500</text>
<text x="69.6" y="755.5" text-anchor="end">600</text>
<text x="69.6" y="804.6" text-anchor="end">700</text>
<text x="69.6" y="853.7" text-anchor="end">800</text>
<text x="247.4" y="413" text-anchor="middle">4 a.m.</text>
<text x="410.1" y="413" text-anchor="middle">8 a.m.</text>
<text x="735.4" y="413" text-anchor="middle">4 p.m.</text>
<text x="898.1" y="413" text-anchor="middle">8 p.m.</text>
<text x="239.5" y="874.1" text-anchor="middle">4 a.m.</text>
<text x="403.4" y="874.1" text-anchor="middle">8 a.m.</text>
<text x="731.3" y="874.1" text-anchor="middle">4 p.m.</text>
<text x="895.2" y="874.1" text-anchor="middle">8p.m.</text>
</g>
<g font-family='"Liberation Serif", serif' font-size="25.3" fill="#000">
<text transform="translate(598.5,444) scale(0.98,1)" text-anchor="middle">Time[hour]</text>
<text transform="translate(591.9,894.7) scale(0.98,1)" text-anchor="middle">Time[hour]</text>
<text transform="translate(33.6,197.3) rotate(-90) scale(0.98,1)" text-anchor="middle">Depth[m]</text>
<text transform="translate(30.4,654.4) rotate(-90) scale(0.98,1)" text-anchor="middle">Depth[m]</text>
<text transform="translate(1179,198.5) rotate(-90) scale(0.98,1)" text-anchor="middle">S<tspan font-size="16" dy="5">v</tspan><tspan dy="-5"> [dB]</tspan></text>
<text transform="translate(1189,658) rotate(-90) scale(0.98,1)" text-anchor="middle">W[m s<tspan font-size="16" dy="-6.5">-1</tspan><tspan dy="6.5">]</tspan></text>
</g>
<g font-weight="bold" font-size="29.5" fill="#000"><text transform="translate(-0.6,23.8) scale(0.97,1)">A</text><text transform="translate(0.8,478) scale(0.95,1)">B</text></g>
</svg></body></html>
